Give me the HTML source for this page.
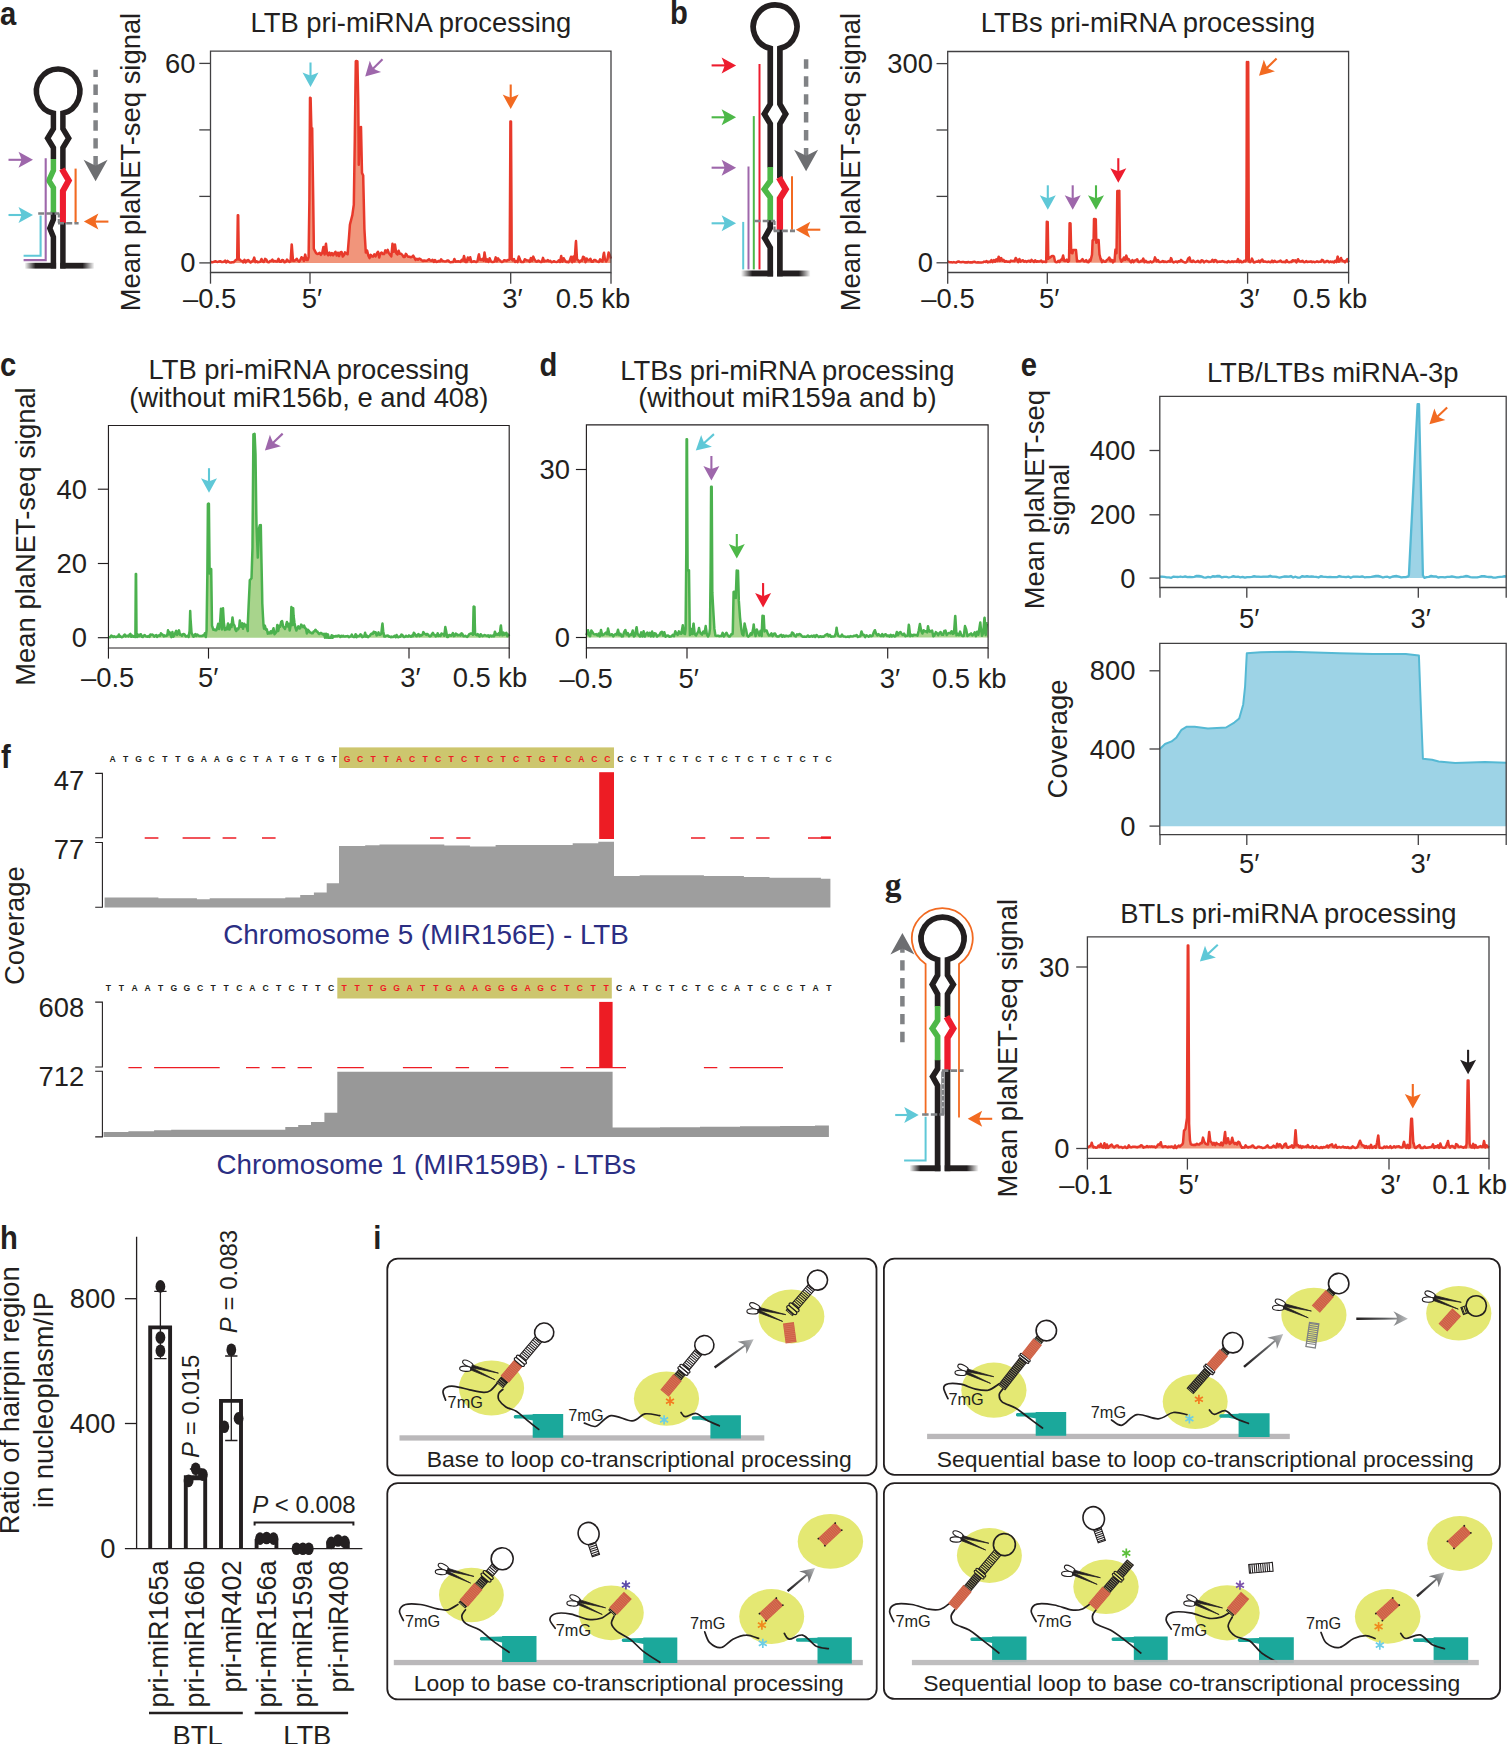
<!DOCTYPE html>
<html><head><meta charset="utf-8"><title>Figure</title>
<style>html,body{margin:0;padding:0;background:#fff}svg{display:block}text{font-family:"Liberation Sans",sans-serif;fill:#231f20}</style>
</head><body>
<svg width="1507" height="1744" viewBox="0 0 1507 1744">
<rect width="1507" height="1744" fill="#fff"/>
<text transform="translate(0 24.5) scale(0.885 1)" font-size="33" font-weight="bold">a</text>
<g fill="none" stroke-linejoin="miter" stroke-miterlimit="10">
<path d="M53.4 159V147.8L47.6 138.3L53.4 128.7V113.3A21.7 22.4 0 1 1 62.9 113.3V128.7L68.7 138.3L62.9 147.8V169.5" stroke="#231f20" fill="none" stroke-width="5.5"/>
<path d="M53.4 211.5V219.5L49.8 228.3L53.4 237V268.5" stroke="#231f20" fill="none" stroke-width="5.5"/>
<path d="M62.9 222V268.5" stroke="#231f20" fill="none" stroke-width="5.5"/>
<path d="M53.4 159V170.5L48.8 180.5L53.4 187.7V212.4" stroke="#4db848" fill="none" stroke-width="5.5"/>
<path d="M61.9 169L68.7 180.5L62.9 191V222.7" stroke="#ed1c2e" fill="none" stroke-width="6.1"/>
</g>
<defs><linearGradient id="fadeL" x1="0" x2="1" y1="0" y2="0"><stop offset="0" stop-color="#231f20" stop-opacity="0"/><stop offset="0.35" stop-color="#231f20"/><stop offset="1" stop-color="#231f20"/></linearGradient><linearGradient id="fadeR" x1="0" x2="1" y1="0" y2="0"><stop offset="0" stop-color="#231f20"/><stop offset="0.65" stop-color="#231f20"/><stop offset="1" stop-color="#231f20" stop-opacity="0"/></linearGradient></defs>
<rect x="24.5" y="262.8" width="31.6" height="5.8" fill="url(#fadeL)"/>
<rect x="60.2" y="262.8" width="34.3" height="5.8" fill="url(#fadeR)"/>
<path d="M45.7 158.2V260.1H23.6" stroke="#9e67ab" fill="none" stroke-width="2.1"/>
<path d="M40.6 215.5V255.8H23.6" stroke="#5fc8d7" fill="none" stroke-width="2.1"/>
<path d="M75.6 168.6V222.7" stroke="#f26a21" fill="none" stroke-width="2.1"/>
<path d="M38.2 213.5H59.3" stroke="#808285" fill="none" stroke-width="2.6" stroke-dasharray="6 2.2"/>
<path d="M58.8 213.5V223.2" stroke="#808285" fill="none" stroke-width="2.2" stroke-dasharray="4 1.5"/>
<path d="M58 223.2H78.6" stroke="#808285" fill="none" stroke-width="2.6" stroke-dasharray="6 2.2"/>
<g transform="translate(33 159.8) rotate(0)"><path d="M-24.5 0H-10.955" stroke="#9e67ab" stroke-width="2.1" fill="none"/><path d="M0 0L-14.5 -8.0Q-12.33 -3.20 -11.46 0Q-12.33 3.20 -14.5 8.0Z" fill="#9e67ab"/></g>
<g transform="translate(33 215) rotate(0)"><path d="M-24.5 0H-10.955" stroke="#5fc8d7" stroke-width="2.1" fill="none"/><path d="M0 0L-14.5 -8.0Q-12.33 -3.20 -11.46 0Q-12.33 3.20 -14.5 8.0Z" fill="#5fc8d7"/></g>
<g transform="translate(83.9 221.6) rotate(180)"><path d="M-24.5 0H-10.955" stroke="#f26a21" stroke-width="2.1" fill="none"/><path d="M0 0L-14.5 -8.0Q-12.33 -3.20 -11.46 0Q-12.33 3.20 -14.5 8.0Z" fill="#f26a21"/></g>
<path d="M95.6 69.8V169.47500000000002" stroke="#808285" fill="none" stroke-width="4.5" stroke-dasharray="10.4 7.5" stroke-dashoffset="3.2"/>
<path d="M95.6 181.3L83.6 159.8L95.6 165.82000000000002L107.6 159.8Z" fill="#6d6e71"/>
<text x="139.8" y="162" font-size="27.4" text-anchor="middle" transform="rotate(-90 139.8 162)">Mean plaNET-seq signal</text>
<text x="410.9" y="32.3" font-size="27.4" text-anchor="middle">LTB pri-miRNA processing</text>
<path d="M210.5 262.9 L210.5 261.7 L211.7 262.3 L212.9 262.2 L214.1 261.7 L215.4 261.3 L216.6 261.7 L217.8 261.9 L219 261.5 L220.2 261.2 L221.4 261.9 L222.6 261.9 L223.8 261.7 L225.1 260.6 L226.3 262.5 L227.5 260.9 L228.7 261.8 L229.9 262.5 L231.1 262.5 L232.3 262.2 L233.6 262.3 L234.8 261 L236 259.9 L237.2 259.3 L237.8 215.2 L238.2 215.3 L238.4 231 L238.8 259.5 L239.6 259.3 L240.8 260.6 L242.1 261 L243.3 262.4 L244.5 259.9 L245.7 262.4 L246.9 260.7 L248.1 260 L249.3 261.2 L250.6 262.5 L251.8 261.5 L253 261 L254.2 257.6 L255.4 262.1 L256.6 261.3 L257.8 262.3 L259 261.9 L260.3 261.8 L261.5 259 L262.7 261.5 L263.9 262 L265.1 258.9 L266.3 259.5 L267.5 262.1 L268.8 262.3 L270 261.1 L271.2 260.9 L272.4 259.7 L273.6 261.5 L274.8 260.9 L276 261.5 L277.2 261.4 L278.5 258.8 L279.7 261.7 L280.9 261.8 L282.1 260 L283.3 260.3 L284.5 262.3 L285.7 261.8 L287 259.6 L288.2 260.8 L289.4 261.9 L290.6 261.1 L291.7 244.4 L291.8 244.9 L293 260.8 L294.2 260.9 L295.5 260.2 L296.7 258.8 L297.9 260.6 L299.1 261.7 L300.3 260 L301.5 257.2 L302.7 258 L303.9 261 L305.2 254.6 L306.4 259.9 L307.6 260.1 L308.6 257 L308.8 242.4 L309.4 199.2 L310 97.8 L310 97.7 L310.6 97.9 L311.2 122.1 L311.4 128.8 L312.2 128.2 L312.4 145 L313.2 198.8 L313.7 237.1 L313.8 248.7 L314.9 250.9 L316.1 253.2 L317.3 253.9 L318.5 253.8 L319.7 252.8 L320.9 254.9 L322.2 253 L323.4 247 L324.6 254.6 L325.8 244.7 L326 243.8 L327 253.5 L328.2 255.2 L329.4 252.6 L330.6 255.2 L331.9 253 L333.1 255.3 L334.3 253.3 L335.5 251.8 L336.7 255.5 L337.9 252.7 L339.1 256 L340.4 252.5 L341.6 252 L342.8 256.6 L344 255 L345 252.3 L345.2 252.6 L346.4 253.4 L347.6 254.3 L347.9 250.3 L348.9 238.4 L349.9 224.8 L350.1 223.9 L351.3 219.2 L352.4 214.9 L352.5 213.9 L353.7 205.3 L353.8 205.1 L354.8 138.8 L354.9 129.5 L355.8 61.3 L356.1 61.1 L357.4 61.3 L357.4 61.7 L358.2 99.1 L358.6 139.1 L358.8 164.8 L359.8 127.7 L359.8 127.5 L361 127.2 L361 126.9 L362 173 L362.2 173.4 L363.2 175.5 L363.4 185.2 L364.4 228.7 L364.6 232.5 L365.8 252.4 L365.8 250.6 L367.1 250.5 L368.3 255.4 L369.5 258.1 L370.7 254.8 L371.9 256.5 L373.1 256.6 L374.3 254.3 L375.6 256.4 L376.8 253.4 L378 251.7 L379.2 257.6 L380.4 253.4 L381.6 252.5 L382.8 254.1 L384.1 254.1 L385.3 250.4 L386.5 252.4 L387.7 249.9 L388.9 253.2 L390.1 254.7 L391.3 256.4 L392.5 243.7 L393.8 251.7 L395 247.1 L395 244.6 L396.2 253.2 L397.4 254.5 L398.6 250.7 L399.8 253.7 L401 253.8 L402.3 254.9 L403.5 256.9 L404.7 257 L405.9 253.8 L407.1 255.5 L408.3 256.8 L409.5 256.8 L410.8 257.2 L412 256.9 L413.2 255.7 L414.4 257.6 L415.6 259.9 L416.8 258.8 L418 259.8 L419.2 258.6 L420.5 259.2 L421.7 260.2 L422.9 261.1 L424.1 260.4 L425.3 260.8 L426.5 260.8 L427.7 260.3 L429 259.2 L430.2 260.5 L431.4 260.7 L432.6 259.8 L433.8 262 L435 260 L436.2 261.9 L437.4 261.8 L438.7 260.9 L439.9 261.5 L441.1 259.3 L442.3 261 L443.5 261.1 L444.7 261.4 L445.9 261.3 L447.2 260.6 L448.4 260.5 L449.6 262.1 L450.8 262.2 L452 261.9 L453.2 262.1 L454.4 259 L455.7 261.7 L456.9 261.4 L458.1 261.3 L459.3 261.5 L460.5 261.9 L461.7 259.9 L462.9 260.7 L464 256 L464.1 256.2 L465.4 262 L466.6 262.1 L467.8 257.5 L469 260.1 L470.2 257.2 L471.4 262 L472.6 261.6 L473.9 261.3 L475.1 261.5 L476.3 262.1 L477.5 261 L478.7 255 L479 254.4 L479.9 259.7 L481.1 260.2 L482.4 258.9 L483.6 260.8 L484.5 252.6 L484.8 254.2 L486 261.4 L487.2 259.3 L488.4 262 L489.6 258.3 L490.9 261.2 L492.1 262 L493.3 261.9 L494.5 261.5 L495.7 257.4 L496.9 261.3 L498.1 258.4 L499.3 260.1 L500.6 261.1 L501.8 262.1 L503 261.5 L504.2 260.2 L505.4 260.5 L506.6 260.9 L507.8 260 L509.1 260.1 L509.7 258.7 L510.3 147.5 L510.4 121.4 L511 121.5 L511.5 216.4 L511.7 259.2 L512.7 260.4 L513.9 259 L515.1 262 L516.3 261.1 L517.5 262.1 L518.8 256.5 L520 259.4 L521.2 262.1 L522.4 262 L523.6 262.1 L524.8 259.2 L526 260 L527.3 260.6 L528.5 260.6 L529.7 261.8 L530.9 258 L532.1 260.9 L533.3 256.6 L534.5 259.6 L535.8 261.3 L537 261.7 L538.2 260.6 L539.4 261.2 L540.6 262.1 L541.8 261.9 L543 257.9 L544.2 261.5 L545.5 260.8 L546.7 261.1 L547.9 260 L549.1 261.3 L550.3 260.8 L551.5 262.2 L552.7 261.9 L554 261.2 L555.2 261.8 L556.4 261.9 L557.6 261.8 L558.8 260.3 L560 261.9 L561.2 255.9 L562.5 261.7 L563.7 258.3 L564.9 260.5 L566.1 262 L567.3 261.7 L568.5 262.3 L569.7 260.6 L571 256.8 L572.2 262.2 L573.4 256.6 L574.6 261.4 L575.8 242.8 L576 241.1 L577 259.4 L578.2 260.2 L579.4 262.2 L580.7 260.6 L581.9 260.8 L583.1 256.7 L584.3 257.6 L585.5 262.2 L586.7 258.5 L587.9 260.3 L589.2 260.3 L590.4 258.7 L591.6 261.8 L592.8 261.8 L594 260.1 L595.2 260 L596.4 261 L597.6 261.6 L598.9 262 L600.1 259.3 L601.3 261.1 L602.5 261.5 L603.7 253.7 L604 252.8 L604.9 259.1 L606.1 261.5 L607.4 259.4 L608.6 252.6 L609.8 255.3 L611 258.7 L611 262.9Z" stroke="none" fill="#f1957b" stroke-width="1"/>
<path d="M210.5 261.7 L211.7 262.3 L212.9 262.2 L214.1 261.7 L215.4 261.3 L216.6 261.7 L217.8 261.9 L219 261.5 L220.2 261.2 L221.4 261.9 L222.6 261.9 L223.8 261.7 L225.1 260.6 L226.3 262.5 L227.5 260.9 L228.7 261.8 L229.9 262.5 L231.1 262.5 L232.3 262.2 L233.6 262.3 L234.8 261 L236 259.9 L237.2 259.3 L237.8 215.2 L238.2 215.3 L238.4 231 L238.8 259.5 L239.6 259.3 L240.8 260.6 L242.1 261 L243.3 262.4 L244.5 259.9 L245.7 262.4 L246.9 260.7 L248.1 260 L249.3 261.2 L250.6 262.5 L251.8 261.5 L253 261 L254.2 257.6 L255.4 262.1 L256.6 261.3 L257.8 262.3 L259 261.9 L260.3 261.8 L261.5 259 L262.7 261.5 L263.9 262 L265.1 258.9 L266.3 259.5 L267.5 262.1 L268.8 262.3 L270 261.1 L271.2 260.9 L272.4 259.7 L273.6 261.5 L274.8 260.9 L276 261.5 L277.2 261.4 L278.5 258.8 L279.7 261.7 L280.9 261.8 L282.1 260 L283.3 260.3 L284.5 262.3 L285.7 261.8 L287 259.6 L288.2 260.8 L289.4 261.9 L290.6 261.1 L291.7 244.4 L291.8 244.9 L293 260.8 L294.2 260.9 L295.5 260.2 L296.7 258.8 L297.9 260.6 L299.1 261.7 L300.3 260 L301.5 257.2 L302.7 258 L303.9 261 L305.2 254.6 L306.4 259.9 L307.6 260.1 L308.6 257 L308.8 242.4 L309.4 199.2 L310 97.8 L310 97.7 L310.6 97.9 L311.2 122.1 L311.4 128.8 L312.2 128.2 L312.4 145 L313.2 198.8 L313.7 237.1 L313.8 248.7 L314.9 250.9 L316.1 253.2 L317.3 253.9 L318.5 253.8 L319.7 252.8 L320.9 254.9 L322.2 253 L323.4 247 L324.6 254.6 L325.8 244.7 L326 243.8 L327 253.5 L328.2 255.2 L329.4 252.6 L330.6 255.2 L331.9 253 L333.1 255.3 L334.3 253.3 L335.5 251.8 L336.7 255.5 L337.9 252.7 L339.1 256 L340.4 252.5 L341.6 252 L342.8 256.6 L344 255 L345 252.3 L345.2 252.6 L346.4 253.4 L347.6 254.3 L347.9 250.3 L348.9 238.4 L349.9 224.8 L350.1 223.9 L351.3 219.2 L352.4 214.9 L352.5 213.9 L353.7 205.3 L353.8 205.1 L354.8 138.8 L354.9 129.5 L355.8 61.3 L356.1 61.1 L357.4 61.3 L357.4 61.7 L358.2 99.1 L358.6 139.1 L358.8 164.8 L359.8 127.7 L359.8 127.5 L361 127.2 L361 126.9 L362 173 L362.2 173.4 L363.2 175.5 L363.4 185.2 L364.4 228.7 L364.6 232.5 L365.8 252.4 L365.8 250.6 L367.1 250.5 L368.3 255.4 L369.5 258.1 L370.7 254.8 L371.9 256.5 L373.1 256.6 L374.3 254.3 L375.6 256.4 L376.8 253.4 L378 251.7 L379.2 257.6 L380.4 253.4 L381.6 252.5 L382.8 254.1 L384.1 254.1 L385.3 250.4 L386.5 252.4 L387.7 249.9 L388.9 253.2 L390.1 254.7 L391.3 256.4 L392.5 243.7 L393.8 251.7 L395 247.1 L395 244.6 L396.2 253.2 L397.4 254.5 L398.6 250.7 L399.8 253.7 L401 253.8 L402.3 254.9 L403.5 256.9 L404.7 257 L405.9 253.8 L407.1 255.5 L408.3 256.8 L409.5 256.8 L410.8 257.2 L412 256.9 L413.2 255.7 L414.4 257.6 L415.6 259.9 L416.8 258.8 L418 259.8 L419.2 258.6 L420.5 259.2 L421.7 260.2 L422.9 261.1 L424.1 260.4 L425.3 260.8 L426.5 260.8 L427.7 260.3 L429 259.2 L430.2 260.5 L431.4 260.7 L432.6 259.8 L433.8 262 L435 260 L436.2 261.9 L437.4 261.8 L438.7 260.9 L439.9 261.5 L441.1 259.3 L442.3 261 L443.5 261.1 L444.7 261.4 L445.9 261.3 L447.2 260.6 L448.4 260.5 L449.6 262.1 L450.8 262.2 L452 261.9 L453.2 262.1 L454.4 259 L455.7 261.7 L456.9 261.4 L458.1 261.3 L459.3 261.5 L460.5 261.9 L461.7 259.9 L462.9 260.7 L464 256 L464.1 256.2 L465.4 262 L466.6 262.1 L467.8 257.5 L469 260.1 L470.2 257.2 L471.4 262 L472.6 261.6 L473.9 261.3 L475.1 261.5 L476.3 262.1 L477.5 261 L478.7 255 L479 254.4 L479.9 259.7 L481.1 260.2 L482.4 258.9 L483.6 260.8 L484.5 252.6 L484.8 254.2 L486 261.4 L487.2 259.3 L488.4 262 L489.6 258.3 L490.9 261.2 L492.1 262 L493.3 261.9 L494.5 261.5 L495.7 257.4 L496.9 261.3 L498.1 258.4 L499.3 260.1 L500.6 261.1 L501.8 262.1 L503 261.5 L504.2 260.2 L505.4 260.5 L506.6 260.9 L507.8 260 L509.1 260.1 L509.7 258.7 L510.3 147.5 L510.4 121.4 L511 121.5 L511.5 216.4 L511.7 259.2 L512.7 260.4 L513.9 259 L515.1 262 L516.3 261.1 L517.5 262.1 L518.8 256.5 L520 259.4 L521.2 262.1 L522.4 262 L523.6 262.1 L524.8 259.2 L526 260 L527.3 260.6 L528.5 260.6 L529.7 261.8 L530.9 258 L532.1 260.9 L533.3 256.6 L534.5 259.6 L535.8 261.3 L537 261.7 L538.2 260.6 L539.4 261.2 L540.6 262.1 L541.8 261.9 L543 257.9 L544.2 261.5 L545.5 260.8 L546.7 261.1 L547.9 260 L549.1 261.3 L550.3 260.8 L551.5 262.2 L552.7 261.9 L554 261.2 L555.2 261.8 L556.4 261.9 L557.6 261.8 L558.8 260.3 L560 261.9 L561.2 255.9 L562.5 261.7 L563.7 258.3 L564.9 260.5 L566.1 262 L567.3 261.7 L568.5 262.3 L569.7 260.6 L571 256.8 L572.2 262.2 L573.4 256.6 L574.6 261.4 L575.8 242.8 L576 241.1 L577 259.4 L578.2 260.2 L579.4 262.2 L580.7 260.6 L581.9 260.8 L583.1 256.7 L584.3 257.6 L585.5 262.2 L586.7 258.5 L587.9 260.3 L589.2 260.3 L590.4 258.7 L591.6 261.8 L592.8 261.8 L594 260.1 L595.2 260 L596.4 261 L597.6 261.6 L598.9 262 L600.1 259.3 L601.3 261.1 L602.5 261.5 L603.7 253.7 L604 252.8 L604.9 259.1 L606.1 261.5 L607.4 259.4 L608.6 252.6 L609.8 255.3 L611 258.7" stroke="#e8392b" fill="none" stroke-width="2.5" stroke-linejoin="round"/>
<path d="M210.5 51.2H611V272.5H210.5Z" stroke="#414042" fill="none" stroke-width="1.3"/>
<line x1="199.3" y1="63.4" x2="210.5" y2="63.4" stroke="#414042" stroke-width="1.3"/>
<line x1="199.3" y1="129.9" x2="210.5" y2="129.9" stroke="#414042" stroke-width="1.3"/>
<line x1="199.3" y1="196.4" x2="210.5" y2="196.4" stroke="#414042" stroke-width="1.3"/>
<line x1="199.3" y1="262.9" x2="210.5" y2="262.9" stroke="#414042" stroke-width="1.3"/>
<line x1="210.5" y1="272.5" x2="210.5" y2="283.7" stroke="#414042" stroke-width="1.3"/>
<line x1="310" y1="272.5" x2="310" y2="283.7" stroke="#414042" stroke-width="1.3"/>
<line x1="510.7" y1="272.5" x2="510.7" y2="283.7" stroke="#414042" stroke-width="1.3"/>
<line x1="611" y1="272.5" x2="611" y2="283.7" stroke="#414042" stroke-width="1.3"/>
<text x="195.5" y="72.9" font-size="27.4" text-anchor="end">60</text>
<text x="195.5" y="272.4" font-size="27.4" text-anchor="end">0</text>
<text x="209.7" y="308" font-size="27.4" text-anchor="middle">–0.5</text>
<text x="312" y="308" font-size="27.4" text-anchor="middle">5′</text>
<text x="512.5" y="308" font-size="27.4" text-anchor="middle">3′</text>
<text x="593" y="308" font-size="27.4" text-anchor="middle">0.5 kb</text>
<g transform="translate(310.5 87) rotate(90)"><path d="M-24.5 0H-10.955" stroke="#5fc8d7" stroke-width="2.1" fill="none"/><path d="M0 0L-14.5 -8.0Q-12.33 -3.20 -11.46 0Q-12.33 3.20 -14.5 8.0Z" fill="#5fc8d7"/></g>
<g transform="translate(365.2 76.6) rotate(135)"><path d="M-24.5 0H-10.955" stroke="#9e67ab" stroke-width="2.1" fill="none"/><path d="M0 0L-14.5 -8.0Q-12.33 -3.20 -11.46 0Q-12.33 3.20 -14.5 8.0Z" fill="#9e67ab"/></g>
<g transform="translate(510.7 109) rotate(90)"><path d="M-24.5 0H-10.955" stroke="#f26a21" stroke-width="2.1" fill="none"/><path d="M0 0L-14.5 -8.0Q-12.33 -3.20 -11.46 0Q-12.33 3.20 -14.5 8.0Z" fill="#f26a21"/></g>
<text transform="translate(669.9 24.3) scale(0.885 1)" font-size="33" font-weight="bold">b</text>
<g fill="none" stroke-linejoin="miter" stroke-miterlimit="10">
<path d="M770.25 167.5V123.9L764.3 114L770.25 104.1V48.4A21.85 22.0 0 1 1 779.9 48.4V104.1L785.7 114L779.9 123.9V178" stroke="#231f20" fill="none" stroke-width="5.7"/>
<path d="M770.25 219.5V228L764.6 237.9L770.25 247.7V276.4" stroke="#231f20" fill="none" stroke-width="5.7"/>
<path d="M779.9 229V276.4" stroke="#231f20" fill="none" stroke-width="5.7"/>
<path d="M770.25 166.9V181L764.3 189.2L770.25 197.4V220.2" stroke="#4db848" fill="none" stroke-width="5.7"/>
<path d="M778.9 177.5L785.7 189.2L779.9 198.5V229.7" stroke="#ed1c2e" fill="none" stroke-width="6.3"/>
</g>
<rect x="741" y="270.5" width="32.1" height="5.9" fill="url(#fadeL)"/>
<rect x="777.1" y="270.5" width="33.5" height="5.9" fill="url(#fadeR)"/>
<path d="M759.5 64V269.4" stroke="#ed1c2e" fill="none" stroke-width="2.0"/>
<path d="M753.8 116.1V269.4" stroke="#4db848" fill="none" stroke-width="2.0"/>
<path d="M748.5 166.5V269.4" stroke="#9e67ab" fill="none" stroke-width="2.0"/>
<path d="M743.2 221.9V269.4" stroke="#5fc8d7" fill="none" stroke-width="2.0"/>
<path d="M792 176.3V229.7" stroke="#f26a21" fill="none" stroke-width="2.0"/>
<path d="M754.5 221H775" stroke="#808285" fill="none" stroke-width="2.6" stroke-dasharray="6 2.2"/>
<path d="M774.5 221V231" stroke="#808285" fill="none" stroke-width="2.2" stroke-dasharray="4 1.5"/>
<path d="M773.6 230.9H795" stroke="#808285" fill="none" stroke-width="2.6" stroke-dasharray="6 2.2"/>
<g transform="translate(736.1 65.4) rotate(0)"><path d="M-24.5 0H-10.955" stroke="#ed1c2e" stroke-width="2.1" fill="none"/><path d="M0 0L-14.5 -8.0Q-12.33 -3.20 -11.46 0Q-12.33 3.20 -14.5 8.0Z" fill="#ed1c2e"/></g>
<g transform="translate(736.1 117.3) rotate(0)"><path d="M-24.5 0H-10.955" stroke="#4db848" stroke-width="2.1" fill="none"/><path d="M0 0L-14.5 -8.0Q-12.33 -3.20 -11.46 0Q-12.33 3.20 -14.5 8.0Z" fill="#4db848"/></g>
<g transform="translate(736.1 167.7) rotate(0)"><path d="M-24.5 0H-10.955" stroke="#9e67ab" stroke-width="2.1" fill="none"/><path d="M0 0L-14.5 -8.0Q-12.33 -3.20 -11.46 0Q-12.33 3.20 -14.5 8.0Z" fill="#9e67ab"/></g>
<g transform="translate(736.1 223.3) rotate(0)"><path d="M-24.5 0H-10.955" stroke="#5fc8d7" stroke-width="2.1" fill="none"/><path d="M0 0L-14.5 -8.0Q-12.33 -3.20 -11.46 0Q-12.33 3.20 -14.5 8.0Z" fill="#5fc8d7"/></g>
<g transform="translate(795.8 229.7) rotate(180)"><path d="M-24.5 0H-10.955" stroke="#f26a21" stroke-width="2.1" fill="none"/><path d="M0 0L-14.5 -8.0Q-12.33 -3.20 -11.46 0Q-12.33 3.20 -14.5 8.0Z" fill="#f26a21"/></g>
<path d="M806.1 59.3V159.375" stroke="#808285" fill="none" stroke-width="4.5" stroke-dasharray="10.4 7.5" stroke-dashoffset="0.9000000000000004"/>
<path d="M806.1 171.2L794.1 149.7L806.1 155.72L818.1 149.7Z" fill="#6d6e71"/>
<text x="860.3" y="162" font-size="27.4" text-anchor="middle" transform="rotate(-90 860.3 162)">Mean plaNET-seq signal</text>
<text x="1148" y="32.3" font-size="27.4" text-anchor="middle">LTBs pri-miRNA processing</text>
<path d="M947.7 262.8 L947.7 261.5 L948.9 262 L950.1 262.2 L951.3 262.3 L952.6 262.4 L953.8 262.1 L955 262.4 L956.2 262.6 L957.4 261.8 L958.6 261.5 L959.8 262 L961.1 262.2 L962.3 262.1 L963.5 262 L964.7 262.4 L965.9 262.2 L967.1 262.5 L968.4 261.9 L969.6 262.5 L970.8 262.3 L972 262.5 L973.2 262 L974.4 261.8 L975.6 262.2 L976.9 262.5 L978.1 262.2 L979.3 262.6 L980.5 262.4 L981.7 262.4 L982.9 262.3 L984.1 261.6 L985.4 261.9 L986.6 261 L987.8 262.4 L989 261.7 L990.2 262 L991.4 260.1 L992.6 262.2 L993.9 260.1 L995.1 261.7 L996.3 259.3 L997.5 261 L998.7 256.7 L998.8 256.8 L999.9 260.9 L1001.2 258.1 L1002.4 260.8 L1003.6 259.9 L1004.8 261.8 L1006 261.1 L1007.2 261.7 L1008.4 261.6 L1009.7 262.1 L1010.9 260.6 L1012.1 260.9 L1013.3 261.1 L1014.5 261.3 L1015.7 258 L1016.9 259.8 L1018.2 262.1 L1019.4 259 L1020.6 261.7 L1021.8 260.6 L1023 260.2 L1024.2 261.7 L1025.5 261 L1026.7 261.9 L1027.9 260.9 L1029.1 260.8 L1030.3 261.8 L1031.5 259.9 L1032.7 260.9 L1034 262 L1035.2 260.3 L1036.4 261.8 L1037.6 261.2 L1038.8 261.6 L1040 261.2 L1041.2 260.6 L1042.5 262.1 L1043.7 261.5 L1044.9 261.9 L1046.1 261.7 L1046.2 262.1 L1046.8 221.8 L1047.3 221.9 L1047.7 221.9 L1048.3 258.7 L1048.5 258.4 L1049.7 257.7 L1051 256.7 L1052 255.9 L1052.2 256 L1053.4 256.1 L1054 256.7 L1054.6 259.5 L1055 261.4 L1055.8 262.1 L1057 262.2 L1058.3 260.8 L1059.5 262 L1060.7 259.8 L1061.9 260.1 L1063.1 255.5 L1064.3 261 L1065.5 261 L1066.8 259.7 L1068 261.8 L1069 261 L1069.2 250 L1069.6 223.3 L1070.4 223.3 L1070.5 223.4 L1071.2 252.5 L1071.6 253 L1072.5 253.2 L1072.8 251.2 L1073 250.1 L1074 250.1 L1075.3 250 L1076 250.1 L1076.5 255.3 L1077 261.4 L1077.7 260.7 L1078.9 261.3 L1080.1 261.3 L1081.3 260.4 L1082.5 259.2 L1083.8 261.2 L1085 261.5 L1086.2 260.1 L1087.4 262 L1088.6 262.2 L1089.8 259.5 L1090.5 260.6 L1091.1 258.4 L1092 254.7 L1092.3 248.1 L1092.6 240.2 L1093.5 240 L1093.6 240 L1094 219 L1094.7 219.1 L1095.8 219.3 L1095.9 224.5 L1096.3 242.8 L1097 240.1 L1097.1 240.1 L1098.3 240.1 L1098.6 240.1 L1099.5 254.6 L1099.6 254.8 L1100.8 259.8 L1101 259 L1102 262.1 L1103.2 260.6 L1104.4 261.7 L1105.6 261.7 L1106.8 260.1 L1108.1 259.3 L1109.3 257.5 L1110.5 261.1 L1111.7 259.9 L1112.9 262.4 L1114.1 260.1 L1114.5 261.3 L1115.3 251.2 L1115.5 249.4 L1116.5 253.3 L1116.6 248.4 L1117.3 191 L1117.8 190.9 L1119 191 L1119.3 190.8 L1120 257.3 L1120.2 258.1 L1121 260.9 L1121.4 261.7 L1122.6 260.6 L1123.9 257.5 L1125.1 259.8 L1126.3 255.6 L1127.5 259.5 L1128.7 259 L1129.9 261.1 L1131.1 262.3 L1132.4 260 L1133.6 262.1 L1134.8 260.4 L1136 260.3 L1137.2 259.3 L1138.4 262 L1139.6 262 L1140.9 260.8 L1142.1 261.3 L1143.3 258.6 L1144.5 262.3 L1145.7 260.7 L1146.9 262.2 L1148.1 262.1 L1149.4 262.2 L1150.6 261.4 L1151.8 262.4 L1153 261.8 L1154.2 260.4 L1155 257.4 L1155.4 258.6 L1156.7 261.4 L1157.9 260 L1159.1 261.9 L1160.3 261.9 L1161.5 261.8 L1162.7 261 L1163.9 262 L1165.2 261.5 L1166.4 262.1 L1167.6 261.7 L1168.8 261 L1170 261.6 L1171 258.1 L1171.2 258.3 L1172.4 261.6 L1173.7 262.4 L1174.9 261.9 L1176.1 261.4 L1177.3 262.4 L1178.5 261.2 L1179.7 261.6 L1181 259.9 L1182.2 261.2 L1183.4 261.9 L1184.6 262.4 L1185.8 262.4 L1187 261.5 L1188.2 258.4 L1189.5 257.4 L1190.7 261.4 L1191.9 262 L1193.1 260.5 L1194.3 261.6 L1195.5 262 L1196.7 261.6 L1198 260.8 L1199.2 262 L1200.4 262.3 L1201.6 260.2 L1202.8 260.6 L1204 262.4 L1205.2 261.4 L1206.5 260.8 L1207.7 261.3 L1208.9 262.1 L1210.1 261.8 L1211.3 261.5 L1212.5 259.8 L1213.8 261.9 L1215 260 L1216.2 260.4 L1217.4 262.2 L1218.6 261.7 L1219.8 261.6 L1221 261.7 L1222.3 261.1 L1223.5 261.5 L1224.7 262 L1225.9 262 L1227.1 262.4 L1228.3 261 L1229.5 261.9 L1230.8 262.1 L1232 261.2 L1233.2 262.1 L1234.4 261.4 L1235.6 261.4 L1236.8 261.9 L1238 259.1 L1239.3 262.2 L1240.5 260.7 L1241.7 262.3 L1242.9 262.1 L1244.1 260.7 L1245.3 261.4 L1246.3 260.4 L1246.6 177.5 L1246.9 62.1 L1247.8 62.2 L1248.2 62.1 L1248.8 261.4 L1249 260.7 L1250.2 262.1 L1251.4 260 L1252 258.6 L1252.6 260.2 L1253.8 262.4 L1255.1 262.2 L1256.3 261.6 L1257.5 261.8 L1258.7 260.7 L1259.9 262.2 L1261.1 260.5 L1262.3 259.5 L1263.6 261.8 L1264.8 261.4 L1266 261.8 L1267.2 262.1 L1268.4 261.5 L1269.6 262.1 L1270.8 262.2 L1272.1 260.6 L1273.3 262.1 L1274.5 260.8 L1275.7 261.8 L1276.9 262 L1278.1 261.6 L1279.4 261.2 L1280.6 260.6 L1281.8 261.9 L1283 261.9 L1284.2 261.7 L1285.4 262.3 L1286.6 260.2 L1287.9 261.9 L1289.1 262.3 L1290.3 261.8 L1291.5 262 L1292.7 260.2 L1293.9 260.9 L1295.1 260.4 L1296.4 262.4 L1297.6 259.9 L1298 259.2 L1298.8 260.6 L1300 261.4 L1301.2 261.5 L1302.4 260.7 L1303.7 262.1 L1304.9 262.2 L1306.1 261.1 L1307.3 262 L1308.5 261.7 L1309.7 261.8 L1310.9 261.3 L1312.2 262.2 L1313.4 261.7 L1314.6 262.2 L1315.8 261.9 L1317 261.3 L1318.2 261.9 L1319.4 261.7 L1320.7 261.8 L1321.9 259.8 L1323.1 260.4 L1324.3 262.3 L1325.5 262 L1326.7 260.9 L1327.9 261.1 L1329.2 262.3 L1330.4 261.4 L1331.6 262.1 L1332.8 261.6 L1334 262.4 L1335.2 260.8 L1336.5 262.1 L1337.6 256.7 L1337.7 256.6 L1338.9 261.7 L1340.1 260.2 L1341 258 L1341.3 258.8 L1342.5 260.9 L1343.7 261 L1345 262.3 L1346.2 260.5 L1347.4 259.2 L1348.6 262.3 L1348.6 262.8Z" stroke="none" fill="#f1957b" stroke-width="1"/>
<path d="M947.7 261.5 L948.9 262 L950.1 262.2 L951.3 262.3 L952.6 262.4 L953.8 262.1 L955 262.4 L956.2 262.6 L957.4 261.8 L958.6 261.5 L959.8 262 L961.1 262.2 L962.3 262.1 L963.5 262 L964.7 262.4 L965.9 262.2 L967.1 262.5 L968.4 261.9 L969.6 262.5 L970.8 262.3 L972 262.5 L973.2 262 L974.4 261.8 L975.6 262.2 L976.9 262.5 L978.1 262.2 L979.3 262.6 L980.5 262.4 L981.7 262.4 L982.9 262.3 L984.1 261.6 L985.4 261.9 L986.6 261 L987.8 262.4 L989 261.7 L990.2 262 L991.4 260.1 L992.6 262.2 L993.9 260.1 L995.1 261.7 L996.3 259.3 L997.5 261 L998.7 256.7 L998.8 256.8 L999.9 260.9 L1001.2 258.1 L1002.4 260.8 L1003.6 259.9 L1004.8 261.8 L1006 261.1 L1007.2 261.7 L1008.4 261.6 L1009.7 262.1 L1010.9 260.6 L1012.1 260.9 L1013.3 261.1 L1014.5 261.3 L1015.7 258 L1016.9 259.8 L1018.2 262.1 L1019.4 259 L1020.6 261.7 L1021.8 260.6 L1023 260.2 L1024.2 261.7 L1025.5 261 L1026.7 261.9 L1027.9 260.9 L1029.1 260.8 L1030.3 261.8 L1031.5 259.9 L1032.7 260.9 L1034 262 L1035.2 260.3 L1036.4 261.8 L1037.6 261.2 L1038.8 261.6 L1040 261.2 L1041.2 260.6 L1042.5 262.1 L1043.7 261.5 L1044.9 261.9 L1046.1 261.7 L1046.2 262.1 L1046.8 221.8 L1047.3 221.9 L1047.7 221.9 L1048.3 258.7 L1048.5 258.4 L1049.7 257.7 L1051 256.7 L1052 255.9 L1052.2 256 L1053.4 256.1 L1054 256.7 L1054.6 259.5 L1055 261.4 L1055.8 262.1 L1057 262.2 L1058.3 260.8 L1059.5 262 L1060.7 259.8 L1061.9 260.1 L1063.1 255.5 L1064.3 261 L1065.5 261 L1066.8 259.7 L1068 261.8 L1069 261 L1069.2 250 L1069.6 223.3 L1070.4 223.3 L1070.5 223.4 L1071.2 252.5 L1071.6 253 L1072.5 253.2 L1072.8 251.2 L1073 250.1 L1074 250.1 L1075.3 250 L1076 250.1 L1076.5 255.3 L1077 261.4 L1077.7 260.7 L1078.9 261.3 L1080.1 261.3 L1081.3 260.4 L1082.5 259.2 L1083.8 261.2 L1085 261.5 L1086.2 260.1 L1087.4 262 L1088.6 262.2 L1089.8 259.5 L1090.5 260.6 L1091.1 258.4 L1092 254.7 L1092.3 248.1 L1092.6 240.2 L1093.5 240 L1093.6 240 L1094 219 L1094.7 219.1 L1095.8 219.3 L1095.9 224.5 L1096.3 242.8 L1097 240.1 L1097.1 240.1 L1098.3 240.1 L1098.6 240.1 L1099.5 254.6 L1099.6 254.8 L1100.8 259.8 L1101 259 L1102 262.1 L1103.2 260.6 L1104.4 261.7 L1105.6 261.7 L1106.8 260.1 L1108.1 259.3 L1109.3 257.5 L1110.5 261.1 L1111.7 259.9 L1112.9 262.4 L1114.1 260.1 L1114.5 261.3 L1115.3 251.2 L1115.5 249.4 L1116.5 253.3 L1116.6 248.4 L1117.3 191 L1117.8 190.9 L1119 191 L1119.3 190.8 L1120 257.3 L1120.2 258.1 L1121 260.9 L1121.4 261.7 L1122.6 260.6 L1123.9 257.5 L1125.1 259.8 L1126.3 255.6 L1127.5 259.5 L1128.7 259 L1129.9 261.1 L1131.1 262.3 L1132.4 260 L1133.6 262.1 L1134.8 260.4 L1136 260.3 L1137.2 259.3 L1138.4 262 L1139.6 262 L1140.9 260.8 L1142.1 261.3 L1143.3 258.6 L1144.5 262.3 L1145.7 260.7 L1146.9 262.2 L1148.1 262.1 L1149.4 262.2 L1150.6 261.4 L1151.8 262.4 L1153 261.8 L1154.2 260.4 L1155 257.4 L1155.4 258.6 L1156.7 261.4 L1157.9 260 L1159.1 261.9 L1160.3 261.9 L1161.5 261.8 L1162.7 261 L1163.9 262 L1165.2 261.5 L1166.4 262.1 L1167.6 261.7 L1168.8 261 L1170 261.6 L1171 258.1 L1171.2 258.3 L1172.4 261.6 L1173.7 262.4 L1174.9 261.9 L1176.1 261.4 L1177.3 262.4 L1178.5 261.2 L1179.7 261.6 L1181 259.9 L1182.2 261.2 L1183.4 261.9 L1184.6 262.4 L1185.8 262.4 L1187 261.5 L1188.2 258.4 L1189.5 257.4 L1190.7 261.4 L1191.9 262 L1193.1 260.5 L1194.3 261.6 L1195.5 262 L1196.7 261.6 L1198 260.8 L1199.2 262 L1200.4 262.3 L1201.6 260.2 L1202.8 260.6 L1204 262.4 L1205.2 261.4 L1206.5 260.8 L1207.7 261.3 L1208.9 262.1 L1210.1 261.8 L1211.3 261.5 L1212.5 259.8 L1213.8 261.9 L1215 260 L1216.2 260.4 L1217.4 262.2 L1218.6 261.7 L1219.8 261.6 L1221 261.7 L1222.3 261.1 L1223.5 261.5 L1224.7 262 L1225.9 262 L1227.1 262.4 L1228.3 261 L1229.5 261.9 L1230.8 262.1 L1232 261.2 L1233.2 262.1 L1234.4 261.4 L1235.6 261.4 L1236.8 261.9 L1238 259.1 L1239.3 262.2 L1240.5 260.7 L1241.7 262.3 L1242.9 262.1 L1244.1 260.7 L1245.3 261.4 L1246.3 260.4 L1246.6 177.5 L1246.9 62.1 L1247.8 62.2 L1248.2 62.1 L1248.8 261.4 L1249 260.7 L1250.2 262.1 L1251.4 260 L1252 258.6 L1252.6 260.2 L1253.8 262.4 L1255.1 262.2 L1256.3 261.6 L1257.5 261.8 L1258.7 260.7 L1259.9 262.2 L1261.1 260.5 L1262.3 259.5 L1263.6 261.8 L1264.8 261.4 L1266 261.8 L1267.2 262.1 L1268.4 261.5 L1269.6 262.1 L1270.8 262.2 L1272.1 260.6 L1273.3 262.1 L1274.5 260.8 L1275.7 261.8 L1276.9 262 L1278.1 261.6 L1279.4 261.2 L1280.6 260.6 L1281.8 261.9 L1283 261.9 L1284.2 261.7 L1285.4 262.3 L1286.6 260.2 L1287.9 261.9 L1289.1 262.3 L1290.3 261.8 L1291.5 262 L1292.7 260.2 L1293.9 260.9 L1295.1 260.4 L1296.4 262.4 L1297.6 259.9 L1298 259.2 L1298.8 260.6 L1300 261.4 L1301.2 261.5 L1302.4 260.7 L1303.7 262.1 L1304.9 262.2 L1306.1 261.1 L1307.3 262 L1308.5 261.7 L1309.7 261.8 L1310.9 261.3 L1312.2 262.2 L1313.4 261.7 L1314.6 262.2 L1315.8 261.9 L1317 261.3 L1318.2 261.9 L1319.4 261.7 L1320.7 261.8 L1321.9 259.8 L1323.1 260.4 L1324.3 262.3 L1325.5 262 L1326.7 260.9 L1327.9 261.1 L1329.2 262.3 L1330.4 261.4 L1331.6 262.1 L1332.8 261.6 L1334 262.4 L1335.2 260.8 L1336.5 262.1 L1337.6 256.7 L1337.7 256.6 L1338.9 261.7 L1340.1 260.2 L1341 258 L1341.3 258.8 L1342.5 260.9 L1343.7 261 L1345 262.3 L1346.2 260.5 L1347.4 259.2 L1348.6 262.3" stroke="#e8392b" fill="none" stroke-width="2.5" stroke-linejoin="round"/>
<path d="M947.7 51.5H1348.6V272.5H947.7Z" stroke="#414042" fill="none" stroke-width="1.3"/>
<line x1="936.5" y1="63.6" x2="947.7" y2="63.6" stroke="#414042" stroke-width="1.3"/>
<line x1="936.5" y1="130" x2="947.7" y2="130" stroke="#414042" stroke-width="1.3"/>
<line x1="936.5" y1="196.4" x2="947.7" y2="196.4" stroke="#414042" stroke-width="1.3"/>
<line x1="936.5" y1="262.8" x2="947.7" y2="262.8" stroke="#414042" stroke-width="1.3"/>
<line x1="947.7" y1="272.5" x2="947.7" y2="283.7" stroke="#414042" stroke-width="1.3"/>
<line x1="1047.3" y1="272.5" x2="1047.3" y2="283.7" stroke="#414042" stroke-width="1.3"/>
<line x1="1247.6" y1="272.5" x2="1247.6" y2="283.7" stroke="#414042" stroke-width="1.3"/>
<line x1="1348.6" y1="272.5" x2="1348.6" y2="283.7" stroke="#414042" stroke-width="1.3"/>
<text x="933" y="72.5" font-size="27.4" text-anchor="end">300</text>
<text x="933" y="272" font-size="27.4" text-anchor="end">0</text>
<text x="948" y="308" font-size="27.4" text-anchor="middle">–0.5</text>
<text x="1049.3" y="308" font-size="27.4" text-anchor="middle">5′</text>
<text x="1249.5" y="308" font-size="27.4" text-anchor="middle">3′</text>
<text x="1330" y="308" font-size="27.4" text-anchor="middle">0.5 kb</text>
<g transform="translate(1047.8 209.8) rotate(90)"><path d="M-24.5 0H-10.955" stroke="#5fc8d7" stroke-width="2.1" fill="none"/><path d="M0 0L-14.5 -8.0Q-12.33 -3.20 -11.46 0Q-12.33 3.20 -14.5 8.0Z" fill="#5fc8d7"/></g>
<g transform="translate(1072.7 209.8) rotate(90)"><path d="M-24.5 0H-10.955" stroke="#9e67ab" stroke-width="2.1" fill="none"/><path d="M0 0L-14.5 -8.0Q-12.33 -3.20 -11.46 0Q-12.33 3.20 -14.5 8.0Z" fill="#9e67ab"/></g>
<g transform="translate(1096 209.8) rotate(90)"><path d="M-24.5 0H-10.955" stroke="#4db848" stroke-width="2.1" fill="none"/><path d="M0 0L-14.5 -8.0Q-12.33 -3.20 -11.46 0Q-12.33 3.20 -14.5 8.0Z" fill="#4db848"/></g>
<g transform="translate(1118.3 182.7) rotate(90)"><path d="M-24.5 0H-10.955" stroke="#ed1c2e" stroke-width="2.1" fill="none"/><path d="M0 0L-14.5 -8.0Q-12.33 -3.20 -11.46 0Q-12.33 3.20 -14.5 8.0Z" fill="#ed1c2e"/></g>
<g transform="translate(1259 75.7) rotate(135.8)"><path d="M-24.5 0H-10.955" stroke="#f26a21" stroke-width="2.1" fill="none"/><path d="M0 0L-14.5 -8.0Q-12.33 -3.20 -11.46 0Q-12.33 3.20 -14.5 8.0Z" fill="#f26a21"/></g>
<text transform="translate(0 376) scale(0.885 1)" font-size="33" font-weight="bold">c</text>
<text x="34.8" y="536.5" font-size="27.4" text-anchor="middle" transform="rotate(-90 34.8 536.5)">Mean plaNET-seq signal</text>
<text x="308.8" y="379.4" font-size="27.4" text-anchor="middle">LTB pri-miRNA processing</text>
<text x="308.8" y="407" font-size="27.4" text-anchor="middle">(without miR156b, e and 408)</text>
<path d="M108.5 637.7 L108.5 636.9 L109.4 637.3 L110.4 637.2 L111.3 635.5 L112.3 636.2 L113.2 637.1 L114.2 636.3 L115.1 636.9 L116.1 637.1 L117 636.5 L118 636.8 L118.9 634.5 L119.9 636.8 L120.9 636.6 L121.8 637.2 L122.8 636.9 L123.7 635.6 L124.7 634.5 L125.6 636.5 L126.6 635.7 L127.5 635.7 L128.5 636.4 L129.4 634.8 L130.4 633.9 L131.3 636.8 L132.3 635.5 L133.3 636.8 L134.2 636 L135.2 637 L135.4 635.7 L135.8 574 L136.1 574 L136.1 577.3 L136.5 633.4 L137.1 637 L138 634.6 L139 636.3 L139.9 634.6 L140.9 634.2 L141.8 636.8 L142.8 636.9 L143.8 635.5 L144.7 635 L145.7 636.3 L146.6 636.4 L147.6 636.8 L148.5 636 L149.5 636.9 L150.4 634.5 L151.4 634.8 L152.3 634.6 L153.3 635.3 L154.2 636.6 L155.2 635.6 L156.2 635.1 L157.1 636.9 L158.1 635.7 L159 635.3 L160 635.9 L160.9 633.3 L161.9 634.3 L162.8 634.9 L163.8 636.4 L164.7 635.4 L165.7 636.1 L166.7 635.8 L167.6 633.3 L168 630.3 L168.6 634.6 L169.5 632.1 L170.5 634.5 L171.4 637.1 L172.4 632.1 L173.3 636.7 L174.3 635.4 L175.2 633.1 L176.2 630.8 L177.2 634.9 L178.1 632.7 L179 630.3 L179.1 630.7 L180 634.8 L181 634.6 L181.9 635.9 L182.9 634.1 L183.8 633.9 L184.8 634.8 L185.7 636.4 L186.7 636.2 L187.6 635.8 L188.6 637 L189.6 631 L190.2 611.1 L190.5 618.4 L191.5 632.7 L192.4 634.6 L193.4 636.8 L194.3 635.8 L195.3 634 L196.2 636 L197.2 634.5 L198.1 635.3 L199.1 635.9 L200.1 636.1 L201 636.1 L202 636 L202.9 635.4 L203.9 635.4 L204.8 633.4 L205.8 637 L206.6 630.1 L206.7 620.2 L207.4 570.3 L207.7 532.8 L207.9 504 L208.6 503.5 L208.9 504 L209.6 572.9 L209.6 573.5 L210.2 569.2 L210.5 569 L211.2 569.1 L211.5 590.2 L212 625.7 L212.5 627.3 L213.4 629.7 L214.4 629.4 L215.3 630.3 L216.3 630.2 L217.2 627.8 L218.2 623.8 L219.1 629.1 L220.1 622.4 L221 608.7 L221 609.1 L222 629.4 L222.9 608.4 L223 608.2 L223.9 623.2 L224.9 630 L225.8 628.2 L226.8 629.3 L227.7 625.1 L228 623.6 L228.7 629.4 L229.6 629.6 L230.6 624.4 L231.5 627 L232.5 617.5 L233.4 624 L234.4 625.4 L235.4 629.6 L236.3 631 L237.3 628.6 L238.2 629.2 L239.2 626.9 L239.8 620.6 L240.1 622.3 L241.1 626.7 L242 623.3 L243 628.7 L243.9 623.9 L244 623.7 L244.9 626.3 L245.9 624.9 L246.8 627.1 L247.8 631.1 L247.8 623.8 L248.7 604 L249.7 583.1 L249.8 580.1 L250.6 579.3 L251.5 578.2 L251.6 575.6 L252.5 547.3 L252.5 543.9 L253.4 434.5 L253.5 434.2 L254.4 434.3 L254.6 433.9 L255.4 452.1 L255.5 454.4 L256.3 514.6 L256.5 525.2 L257.3 545 L257.8 557.6 L258.3 546.9 L259 529.2 L259.2 527.7 L259.8 525.2 L260.2 525.4 L260.8 525.1 L261.1 542.1 L261.5 562.7 L262.1 591.6 L262.3 603.5 L263 616.8 L263.5 625 L264 628.7 L264.9 625.8 L265.9 629.6 L266.8 629.2 L267.8 633.8 L268.8 632.5 L269.7 633.5 L270.7 631.4 L271.6 633.2 L272.6 630.8 L273.5 628.3 L274.5 634.3 L275.4 633.1 L276.4 632 L277.3 625 L278.3 630.9 L279.2 625.8 L280.2 626.6 L281.2 621.7 L282.1 621.1 L283.1 626.5 L284 627.6 L285 628.9 L285.9 626.1 L286.9 622 L287.8 626.6 L288.8 623.8 L289.7 630.6 L290.7 625.2 L291.4 607 L291.6 610.8 L292.6 625.1 L293.2 608.3 L293.6 616 L294.5 623 L295.5 627.9 L296.4 630.5 L297.4 628 L298.3 626.4 L299.3 628.5 L300.2 628.2 L301.2 624.6 L302.1 625.7 L303.1 627.1 L304.1 625.6 L305 628 L306 628.8 L306.9 633.5 L307.9 629.7 L308.8 630.8 L309.8 632.3 L310.7 632.4 L311.7 633.2 L312.6 633.3 L313.6 631.5 L314.6 631.2 L315.5 629.7 L316.5 631.5 L317.4 631.6 L318.4 633.2 L319.3 634 L320.3 633.1 L321.2 633 L322.2 633.9 L323.1 634.6 L324.1 633.8 L325 637.8 L326 633.8 L327 637.8 L327.9 634.4 L328.9 637.8 L329.8 637.7 L330.8 637.8 L331.7 635.2 L332.7 637.8 L333.6 636 L334.6 636.6 L335.5 636.1 L336.5 636 L337.4 636.3 L338.4 635.6 L339.4 635.7 L340.3 636.9 L341.3 635.8 L342.2 636.5 L343.2 635.8 L344.1 636.6 L345.1 636.4 L346 636.2 L347 636.3 L347.9 636 L348.9 637.1 L349.9 636.5 L350.8 636.5 L351.8 634.6 L352.7 636.6 L353.7 637 L354.6 637 L355.6 634.2 L356.5 637.2 L357.5 635.8 L358.4 636.2 L359.4 636.1 L360.4 634.3 L361.3 634.8 L362.3 637.2 L363.2 636.7 L364.2 636.4 L365.1 632.7 L366.1 636.7 L367 635.6 L368 637.1 L368.9 636.3 L369.9 635.7 L370.8 634.3 L371.8 633.5 L372.8 634 L373.7 631.7 L374.7 632.7 L375.6 632.2 L376.6 635.4 L377.5 634.9 L378.5 632.4 L379.4 634.8 L380.4 634.8 L381.3 633.7 L382.3 624.4 L382.5 623.5 L383.2 631.2 L384.2 636.6 L385.2 636.5 L386.1 635.7 L387.1 635.7 L388 635.5 L389 636.7 L389.9 636.6 L390.9 637.2 L391.8 636.6 L392.8 637.1 L393.7 636.5 L394.7 635.7 L395.7 637.2 L396.6 635 L397.6 637.1 L398.5 637.2 L399.5 636.5 L400.4 636.7 L401.4 634.6 L402.3 635 L403.3 636.5 L404.2 637.1 L405.2 636.6 L406.1 635.7 L407.1 636.4 L408.1 636.6 L409 635.4 L410 636.1 L410.9 636.7 L411.9 635.5 L412.8 636.2 L413.8 632.8 L414.7 633.7 L415.7 635.7 L416.6 636.3 L417.6 634.8 L418.6 634.1 L419.5 636.1 L420.5 635.1 L421.4 635.5 L422.4 634.8 L423.3 632.1 L424.3 633.5 L425.2 634 L426.2 634.9 L427.1 633.9 L428.1 634.6 L429.1 635.9 L430 636.4 L431 635.9 L431.9 634 L432.9 632.9 L433.8 634.6 L434.8 634.9 L435.7 636.4 L436.7 635.9 L437.6 633.3 L438.6 635.9 L439.5 635.1 L440.5 636 L441.5 633.5 L442.4 634 L443.4 634.1 L444.3 635.8 L445.3 627.1 L446.2 631.6 L447.2 636.9 L448.1 637 L449.1 635.1 L450 635.1 L451 635.7 L451.9 634.9 L452.9 633.1 L453.9 636.1 L454.8 635.6 L455.8 633.6 L456.7 634.1 L457.7 635.4 L458.6 635.2 L459.6 634.7 L460.5 635.6 L461.5 633.3 L462.4 634 L463.4 636.2 L464.4 636.2 L465.3 635.8 L466.3 636.5 L467.2 637 L468.2 635.9 L469.1 634.3 L470.1 633.7 L471 633.5 L472 633.8 L472.9 633.3 L473 634.8 L473.6 606.6 L473.9 606.5 L474.5 606.8 L474.8 623.4 L475.1 633.9 L475.8 634.7 L476.8 635.3 L477.7 634.1 L478.7 635.6 L479.6 636.5 L480.6 634.2 L481.5 635.2 L482.5 636.2 L483.4 635.7 L484.4 635.1 L485.3 635.2 L486.3 635.8 L487.3 636.1 L488.2 635.3 L489.2 636.9 L490.1 635.4 L491.1 635.7 L492 636.4 L493 635.5 L493.9 636.3 L494.9 631.7 L495.8 634.9 L496.8 634 L497.8 634.8 L498.7 633.4 L499.7 635.1 L500.6 627.1 L500.9 625.4 L501.6 632 L502.5 635.3 L503.5 632.6 L504.4 634.7 L505.4 633.9 L506.3 632.7 L507.3 636.2 L508.2 634.6 L509.2 636.2 L509.2 637.7Z" stroke="none" fill="#a8d48c" stroke-width="1"/>
<path d="M108.5 636.9 L109.4 637.3 L110.4 637.2 L111.3 635.5 L112.3 636.2 L113.2 637.1 L114.2 636.3 L115.1 636.9 L116.1 637.1 L117 636.5 L118 636.8 L118.9 634.5 L119.9 636.8 L120.9 636.6 L121.8 637.2 L122.8 636.9 L123.7 635.6 L124.7 634.5 L125.6 636.5 L126.6 635.7 L127.5 635.7 L128.5 636.4 L129.4 634.8 L130.4 633.9 L131.3 636.8 L132.3 635.5 L133.3 636.8 L134.2 636 L135.2 637 L135.4 635.7 L135.8 574 L136.1 574 L136.1 577.3 L136.5 633.4 L137.1 637 L138 634.6 L139 636.3 L139.9 634.6 L140.9 634.2 L141.8 636.8 L142.8 636.9 L143.8 635.5 L144.7 635 L145.7 636.3 L146.6 636.4 L147.6 636.8 L148.5 636 L149.5 636.9 L150.4 634.5 L151.4 634.8 L152.3 634.6 L153.3 635.3 L154.2 636.6 L155.2 635.6 L156.2 635.1 L157.1 636.9 L158.1 635.7 L159 635.3 L160 635.9 L160.9 633.3 L161.9 634.3 L162.8 634.9 L163.8 636.4 L164.7 635.4 L165.7 636.1 L166.7 635.8 L167.6 633.3 L168 630.3 L168.6 634.6 L169.5 632.1 L170.5 634.5 L171.4 637.1 L172.4 632.1 L173.3 636.7 L174.3 635.4 L175.2 633.1 L176.2 630.8 L177.2 634.9 L178.1 632.7 L179 630.3 L179.1 630.7 L180 634.8 L181 634.6 L181.9 635.9 L182.9 634.1 L183.8 633.9 L184.8 634.8 L185.7 636.4 L186.7 636.2 L187.6 635.8 L188.6 637 L189.6 631 L190.2 611.1 L190.5 618.4 L191.5 632.7 L192.4 634.6 L193.4 636.8 L194.3 635.8 L195.3 634 L196.2 636 L197.2 634.5 L198.1 635.3 L199.1 635.9 L200.1 636.1 L201 636.1 L202 636 L202.9 635.4 L203.9 635.4 L204.8 633.4 L205.8 637 L206.6 630.1 L206.7 620.2 L207.4 570.3 L207.7 532.8 L207.9 504 L208.6 503.5 L208.9 504 L209.6 572.9 L209.6 573.5 L210.2 569.2 L210.5 569 L211.2 569.1 L211.5 590.2 L212 625.7 L212.5 627.3 L213.4 629.7 L214.4 629.4 L215.3 630.3 L216.3 630.2 L217.2 627.8 L218.2 623.8 L219.1 629.1 L220.1 622.4 L221 608.7 L221 609.1 L222 629.4 L222.9 608.4 L223 608.2 L223.9 623.2 L224.9 630 L225.8 628.2 L226.8 629.3 L227.7 625.1 L228 623.6 L228.7 629.4 L229.6 629.6 L230.6 624.4 L231.5 627 L232.5 617.5 L233.4 624 L234.4 625.4 L235.4 629.6 L236.3 631 L237.3 628.6 L238.2 629.2 L239.2 626.9 L239.8 620.6 L240.1 622.3 L241.1 626.7 L242 623.3 L243 628.7 L243.9 623.9 L244 623.7 L244.9 626.3 L245.9 624.9 L246.8 627.1 L247.8 631.1 L247.8 623.8 L248.7 604 L249.7 583.1 L249.8 580.1 L250.6 579.3 L251.5 578.2 L251.6 575.6 L252.5 547.3 L252.5 543.9 L253.4 434.5 L253.5 434.2 L254.4 434.3 L254.6 433.9 L255.4 452.1 L255.5 454.4 L256.3 514.6 L256.5 525.2 L257.3 545 L257.8 557.6 L258.3 546.9 L259 529.2 L259.2 527.7 L259.8 525.2 L260.2 525.4 L260.8 525.1 L261.1 542.1 L261.5 562.7 L262.1 591.6 L262.3 603.5 L263 616.8 L263.5 625 L264 628.7 L264.9 625.8 L265.9 629.6 L266.8 629.2 L267.8 633.8 L268.8 632.5 L269.7 633.5 L270.7 631.4 L271.6 633.2 L272.6 630.8 L273.5 628.3 L274.5 634.3 L275.4 633.1 L276.4 632 L277.3 625 L278.3 630.9 L279.2 625.8 L280.2 626.6 L281.2 621.7 L282.1 621.1 L283.1 626.5 L284 627.6 L285 628.9 L285.9 626.1 L286.9 622 L287.8 626.6 L288.8 623.8 L289.7 630.6 L290.7 625.2 L291.4 607 L291.6 610.8 L292.6 625.1 L293.2 608.3 L293.6 616 L294.5 623 L295.5 627.9 L296.4 630.5 L297.4 628 L298.3 626.4 L299.3 628.5 L300.2 628.2 L301.2 624.6 L302.1 625.7 L303.1 627.1 L304.1 625.6 L305 628 L306 628.8 L306.9 633.5 L307.9 629.7 L308.8 630.8 L309.8 632.3 L310.7 632.4 L311.7 633.2 L312.6 633.3 L313.6 631.5 L314.6 631.2 L315.5 629.7 L316.5 631.5 L317.4 631.6 L318.4 633.2 L319.3 634 L320.3 633.1 L321.2 633 L322.2 633.9 L323.1 634.6 L324.1 633.8 L325 637.8 L326 633.8 L327 637.8 L327.9 634.4 L328.9 637.8 L329.8 637.7 L330.8 637.8 L331.7 635.2 L332.7 637.8 L333.6 636 L334.6 636.6 L335.5 636.1 L336.5 636 L337.4 636.3 L338.4 635.6 L339.4 635.7 L340.3 636.9 L341.3 635.8 L342.2 636.5 L343.2 635.8 L344.1 636.6 L345.1 636.4 L346 636.2 L347 636.3 L347.9 636 L348.9 637.1 L349.9 636.5 L350.8 636.5 L351.8 634.6 L352.7 636.6 L353.7 637 L354.6 637 L355.6 634.2 L356.5 637.2 L357.5 635.8 L358.4 636.2 L359.4 636.1 L360.4 634.3 L361.3 634.8 L362.3 637.2 L363.2 636.7 L364.2 636.4 L365.1 632.7 L366.1 636.7 L367 635.6 L368 637.1 L368.9 636.3 L369.9 635.7 L370.8 634.3 L371.8 633.5 L372.8 634 L373.7 631.7 L374.7 632.7 L375.6 632.2 L376.6 635.4 L377.5 634.9 L378.5 632.4 L379.4 634.8 L380.4 634.8 L381.3 633.7 L382.3 624.4 L382.5 623.5 L383.2 631.2 L384.2 636.6 L385.2 636.5 L386.1 635.7 L387.1 635.7 L388 635.5 L389 636.7 L389.9 636.6 L390.9 637.2 L391.8 636.6 L392.8 637.1 L393.7 636.5 L394.7 635.7 L395.7 637.2 L396.6 635 L397.6 637.1 L398.5 637.2 L399.5 636.5 L400.4 636.7 L401.4 634.6 L402.3 635 L403.3 636.5 L404.2 637.1 L405.2 636.6 L406.1 635.7 L407.1 636.4 L408.1 636.6 L409 635.4 L410 636.1 L410.9 636.7 L411.9 635.5 L412.8 636.2 L413.8 632.8 L414.7 633.7 L415.7 635.7 L416.6 636.3 L417.6 634.8 L418.6 634.1 L419.5 636.1 L420.5 635.1 L421.4 635.5 L422.4 634.8 L423.3 632.1 L424.3 633.5 L425.2 634 L426.2 634.9 L427.1 633.9 L428.1 634.6 L429.1 635.9 L430 636.4 L431 635.9 L431.9 634 L432.9 632.9 L433.8 634.6 L434.8 634.9 L435.7 636.4 L436.7 635.9 L437.6 633.3 L438.6 635.9 L439.5 635.1 L440.5 636 L441.5 633.5 L442.4 634 L443.4 634.1 L444.3 635.8 L445.3 627.1 L446.2 631.6 L447.2 636.9 L448.1 637 L449.1 635.1 L450 635.1 L451 635.7 L451.9 634.9 L452.9 633.1 L453.9 636.1 L454.8 635.6 L455.8 633.6 L456.7 634.1 L457.7 635.4 L458.6 635.2 L459.6 634.7 L460.5 635.6 L461.5 633.3 L462.4 634 L463.4 636.2 L464.4 636.2 L465.3 635.8 L466.3 636.5 L467.2 637 L468.2 635.9 L469.1 634.3 L470.1 633.7 L471 633.5 L472 633.8 L472.9 633.3 L473 634.8 L473.6 606.6 L473.9 606.5 L474.5 606.8 L474.8 623.4 L475.1 633.9 L475.8 634.7 L476.8 635.3 L477.7 634.1 L478.7 635.6 L479.6 636.5 L480.6 634.2 L481.5 635.2 L482.5 636.2 L483.4 635.7 L484.4 635.1 L485.3 635.2 L486.3 635.8 L487.3 636.1 L488.2 635.3 L489.2 636.9 L490.1 635.4 L491.1 635.7 L492 636.4 L493 635.5 L493.9 636.3 L494.9 631.7 L495.8 634.9 L496.8 634 L497.8 634.8 L498.7 633.4 L499.7 635.1 L500.6 627.1 L500.9 625.4 L501.6 632 L502.5 635.3 L503.5 632.6 L504.4 634.7 L505.4 633.9 L506.3 632.7 L507.3 636.2 L508.2 634.6 L509.2 636.2" stroke="#4bb14e" fill="none" stroke-width="2.5" stroke-linejoin="round"/>
<path d="M108.45 425.5H509.2V648H108.45Z" stroke="#231f20" fill="none" stroke-width="1.15"/>
<line x1="97.85000000000001" y1="489.2" x2="108.45" y2="489.2" stroke="#231f20" stroke-width="1.15"/>
<line x1="97.85000000000001" y1="563.5" x2="108.45" y2="563.5" stroke="#231f20" stroke-width="1.15"/>
<line x1="97.85000000000001" y1="637.7" x2="108.45" y2="637.7" stroke="#231f20" stroke-width="1.15"/>
<line x1="108.45" y1="648" x2="108.45" y2="658.6" stroke="#231f20" stroke-width="1.15"/>
<line x1="208.5" y1="648" x2="208.5" y2="658.6" stroke="#231f20" stroke-width="1.15"/>
<line x1="409" y1="648" x2="409" y2="658.6" stroke="#231f20" stroke-width="1.15"/>
<line x1="509.2" y1="648" x2="509.2" y2="658.6" stroke="#231f20" stroke-width="1.15"/>
<text x="87" y="498.5" font-size="27.4" text-anchor="end">40</text>
<text x="87" y="573" font-size="27.4" text-anchor="end">20</text>
<text x="87" y="647.2" font-size="27.4" text-anchor="end">0</text>
<text x="107.6" y="687.3" font-size="27.4" text-anchor="middle">–0.5</text>
<text x="208.2" y="687.3" font-size="27.4" text-anchor="middle">5′</text>
<text x="410.5" y="686.8" font-size="27.4" text-anchor="middle">3′</text>
<text x="490" y="686.8" font-size="27.4" text-anchor="middle">0.5 kb</text>
<g transform="translate(209 492.7) rotate(90)"><path d="M-24.5 0H-10.955" stroke="#5fc8d7" stroke-width="2.1" fill="none"/><path d="M0 0L-14.5 -8.0Q-12.33 -3.20 -11.46 0Q-12.33 3.20 -14.5 8.0Z" fill="#5fc8d7"/></g>
<g transform="translate(264.9 450.5) rotate(136.5)"><path d="M-24.5 0H-10.955" stroke="#9e67ab" stroke-width="2.1" fill="none"/><path d="M0 0L-14.5 -8.0Q-12.33 -3.20 -11.46 0Q-12.33 3.20 -14.5 8.0Z" fill="#9e67ab"/></g>
<text transform="translate(539.5 376) scale(0.885 1)" font-size="33" font-weight="bold">d</text>
<text x="787.4" y="379.6" font-size="27.4" text-anchor="middle">LTBs pri-miRNA processing</text>
<text x="787.4" y="406.8" font-size="27.4" text-anchor="middle">(without miR159a and b)</text>
<path d="M586.4 637.5 L586.4 635.2 L587.6 631.6 L588 630.2 L588.8 634.4 L590.1 636.2 L591.3 630.4 L592.5 632.2 L593.7 634.1 L594.9 634.4 L596.1 634.1 L597.4 635.5 L598.6 633.6 L599.8 636.4 L601 630 L602.2 635.2 L603.4 634.9 L604.7 633.7 L605.9 632.6 L607.1 634.2 L608 628.6 L608.3 629.9 L609.5 634.9 L610.7 634.9 L612 634.2 L613.2 636.4 L614.4 634.9 L615.6 634 L616.8 634.6 L618 629.8 L619.3 635.1 L620.5 633.7 L621.7 636.4 L622.9 636.3 L624.1 632.2 L625.4 630 L626.6 634.6 L627.8 633.1 L629 636.3 L630.2 634.6 L631.4 634.7 L632.7 630.5 L633.9 636.5 L635.1 635.6 L636.3 628.3 L636.6 627.2 L637.5 633.5 L638.7 635.2 L640 636.5 L641.2 632.4 L642.4 636.5 L643.6 631.3 L644.8 636.6 L646 634.1 L647.3 632.5 L648.5 635.6 L649.7 632.9 L650.9 636.4 L652.1 631.5 L653.4 636.5 L654.6 633.3 L655.8 633.6 L657 636.6 L658.2 635.5 L659.4 635.1 L660.7 632.5 L661.9 631.7 L663.1 635.7 L664.3 632.3 L665.5 636.7 L666.7 635.8 L668 635.5 L669.2 636.7 L670.4 636.5 L671.6 636.3 L672.8 634.8 L674 636.2 L675.3 631.2 L676.5 633.6 L677.7 634.9 L678.9 631.4 L680.1 633.6 L681.3 633.8 L682.6 626.5 L682.8 625.3 L683.8 633.2 L685 634.1 L685.6 628.8 L686.2 562.5 L686.3 553.4 L686.6 439.2 L687 439.3 L687.4 533.7 L687.6 569.9 L688.4 570.6 L688.7 570.7 L689 570.3 L689.7 625.8 L689.9 635.1 L691.1 629.1 L692.3 634.1 L693.5 623.7 L693.6 623.6 L694.7 634.1 L696 635.5 L697.2 633.4 L698.4 631.3 L699 628.1 L699.6 631.3 L700.8 633.6 L702 634.6 L703.3 631.5 L704.5 633.3 L705.7 626.1 L706.9 634.6 L708.1 636.5 L709.3 633.9 L710 628.7 L710.6 572.6 L710.7 558.9 L711.1 486.8 L711.7 486.8 L711.8 500.7 L712.3 592.4 L713 605.2 L713.6 615.9 L714.2 626 L714.4 628.9 L715.4 635.5 L716.6 635.9 L717.9 635.6 L719.1 636.2 L720.3 636.1 L721.5 636 L722.7 632.8 L724 636.5 L725.2 634.4 L726.4 632.7 L727.6 635 L728.8 636.4 L730 636.5 L731.3 634.2 L732.5 634.2 L732.8 631.5 L733.6 591.9 L733.7 591.8 L734.9 591.8 L735 591.9 L735.8 598.1 L736.1 588.1 L736.7 570.5 L737.3 570.8 L738 570.7 L738.6 591.6 L738.8 600.4 L739.8 614.4 L740 617.3 L741 626.3 L741.5 630.3 L742.2 634.1 L743.4 635.4 L744.6 623.4 L745.9 629.7 L746 629.3 L747.1 635.3 L748.3 636.6 L749.5 635.7 L750.7 633.2 L751.9 634.6 L753.2 628.6 L753.7 624.5 L754.4 631 L755.6 636.1 L756.8 629.6 L758 632.5 L759.3 635.5 L760.5 630.7 L761.7 636 L761.8 631.6 L762.5 615.8 L762.9 616.1 L763.7 616 L764.1 624 L764.5 631.4 L765.3 630.6 L766.6 630.4 L767.8 633.6 L769 635.6 L770.2 635.2 L771.4 633.4 L772.6 636.2 L773.9 633.8 L775.1 633.6 L776.3 636 L777.5 636.5 L778.7 636.5 L779.9 635.5 L781.2 634.7 L782.4 636.8 L783.6 635.4 L784.8 636.6 L786 635.6 L787.2 636.1 L788.5 636.3 L789.7 635.4 L790.9 636 L792.1 632.5 L793.3 633.3 L794.6 635.8 L795.8 636.5 L797 634.3 L798.2 634.8 L799.4 633.9 L800.6 634.5 L801.9 636.2 L803.1 636.8 L804.3 636.6 L805.5 636.7 L806.7 636.7 L807.9 635.5 L809.2 636.8 L810.4 636.5 L811.6 635.7 L812.8 636.7 L814 635.5 L815.2 637 L816.5 635 L817.7 636.1 L818.9 637.1 L820.1 636.2 L821.3 636.9 L822.6 636.5 L823.8 636.7 L825 635.3 L826.2 634.7 L827.4 634 L828.6 636.2 L829.9 634.9 L831.1 636.8 L832.3 636.6 L833.5 636.6 L834.7 636.3 L835.9 633.2 L836.6 627.7 L837.2 632.1 L838.4 635.9 L839.6 636.5 L840.8 636.5 L842 634.6 L843.2 636.4 L844.5 636.4 L845.7 636.9 L846.9 636.8 L848.1 636.5 L849.3 637 L850.5 636.1 L851.8 636.4 L853 636.3 L854.2 635.7 L855.4 635.8 L856.6 635 L857.9 637 L859.1 636.4 L860.3 636.2 L861.5 631.4 L862.7 634.8 L863.9 634.8 L865.2 637.1 L866.4 635.2 L867.6 636 L868.8 636.7 L870 635.3 L871.2 636.2 L872.5 635.8 L873.7 632.4 L874.9 630.2 L876.1 633.6 L877.3 635.4 L878.5 634.1 L879.8 635.5 L881 636.1 L882.2 634 L883.4 636.3 L884.6 634.7 L885.8 634.3 L887.1 636 L888.3 635.5 L889.5 636.7 L890.7 634.7 L891.9 636.5 L893.2 635.1 L894.4 636.5 L895.6 636.2 L896.8 632 L898 635.1 L899.2 632.9 L900.5 632 L901.7 634.2 L902.9 634.9 L904.1 633.6 L905.3 636.3 L906.5 635.7 L907.8 635.7 L908.8 624.8 L909 625.5 L910.2 636.3 L911.4 634.7 L912.6 636 L913.8 634.7 L915.1 635 L916.3 634.9 L917.5 635.6 L918.7 630.8 L919.9 624 L921.2 630.8 L922.4 633.5 L923.6 630.2 L924.8 631.5 L926 631.2 L927.2 632.4 L928 626.2 L928.5 628.6 L929.7 631.6 L930.9 631.2 L932.1 630.6 L933.3 636.3 L934.5 635.4 L935.8 632.1 L937 633.2 L938.2 635.2 L939.4 633 L940.6 632.1 L941.8 634.7 L943.1 634.8 L944.3 631 L945.5 630.6 L946.7 635 L947.9 633.5 L949.1 632.9 L950.4 633.4 L951.6 631.2 L952.8 633.9 L954 633.1 L955.2 616.1 L955.3 616.1 L956.5 635.3 L957.7 633.7 L958.9 635.3 L960.1 631.6 L961.3 635.1 L962.5 636 L963.8 635.9 L965 626.1 L966.2 629.4 L967.4 636 L968.6 635.1 L969.8 634.4 L971.1 633.4 L972.3 635.4 L973.5 634.3 L974.7 632.4 L975.9 636.2 L977.1 631.7 L978.4 634.8 L979.6 627 L980.3 622.4 L980.8 627.8 L982 635.7 L983.2 633 L984.4 618.4 L984.6 617.7 L985.7 634.9 L986.9 623.3 L987 623.4 L988.1 637.5Z" stroke="none" fill="#a8d48c" stroke-width="1"/>
<path d="M586.4 635.2 L587.6 631.6 L588 630.2 L588.8 634.4 L590.1 636.2 L591.3 630.4 L592.5 632.2 L593.7 634.1 L594.9 634.4 L596.1 634.1 L597.4 635.5 L598.6 633.6 L599.8 636.4 L601 630 L602.2 635.2 L603.4 634.9 L604.7 633.7 L605.9 632.6 L607.1 634.2 L608 628.6 L608.3 629.9 L609.5 634.9 L610.7 634.9 L612 634.2 L613.2 636.4 L614.4 634.9 L615.6 634 L616.8 634.6 L618 629.8 L619.3 635.1 L620.5 633.7 L621.7 636.4 L622.9 636.3 L624.1 632.2 L625.4 630 L626.6 634.6 L627.8 633.1 L629 636.3 L630.2 634.6 L631.4 634.7 L632.7 630.5 L633.9 636.5 L635.1 635.6 L636.3 628.3 L636.6 627.2 L637.5 633.5 L638.7 635.2 L640 636.5 L641.2 632.4 L642.4 636.5 L643.6 631.3 L644.8 636.6 L646 634.1 L647.3 632.5 L648.5 635.6 L649.7 632.9 L650.9 636.4 L652.1 631.5 L653.4 636.5 L654.6 633.3 L655.8 633.6 L657 636.6 L658.2 635.5 L659.4 635.1 L660.7 632.5 L661.9 631.7 L663.1 635.7 L664.3 632.3 L665.5 636.7 L666.7 635.8 L668 635.5 L669.2 636.7 L670.4 636.5 L671.6 636.3 L672.8 634.8 L674 636.2 L675.3 631.2 L676.5 633.6 L677.7 634.9 L678.9 631.4 L680.1 633.6 L681.3 633.8 L682.6 626.5 L682.8 625.3 L683.8 633.2 L685 634.1 L685.6 628.8 L686.2 562.5 L686.3 553.4 L686.6 439.2 L687 439.3 L687.4 533.7 L687.6 569.9 L688.4 570.6 L688.7 570.7 L689 570.3 L689.7 625.8 L689.9 635.1 L691.1 629.1 L692.3 634.1 L693.5 623.7 L693.6 623.6 L694.7 634.1 L696 635.5 L697.2 633.4 L698.4 631.3 L699 628.1 L699.6 631.3 L700.8 633.6 L702 634.6 L703.3 631.5 L704.5 633.3 L705.7 626.1 L706.9 634.6 L708.1 636.5 L709.3 633.9 L710 628.7 L710.6 572.6 L710.7 558.9 L711.1 486.8 L711.7 486.8 L711.8 500.7 L712.3 592.4 L713 605.2 L713.6 615.9 L714.2 626 L714.4 628.9 L715.4 635.5 L716.6 635.9 L717.9 635.6 L719.1 636.2 L720.3 636.1 L721.5 636 L722.7 632.8 L724 636.5 L725.2 634.4 L726.4 632.7 L727.6 635 L728.8 636.4 L730 636.5 L731.3 634.2 L732.5 634.2 L732.8 631.5 L733.6 591.9 L733.7 591.8 L734.9 591.8 L735 591.9 L735.8 598.1 L736.1 588.1 L736.7 570.5 L737.3 570.8 L738 570.7 L738.6 591.6 L738.8 600.4 L739.8 614.4 L740 617.3 L741 626.3 L741.5 630.3 L742.2 634.1 L743.4 635.4 L744.6 623.4 L745.9 629.7 L746 629.3 L747.1 635.3 L748.3 636.6 L749.5 635.7 L750.7 633.2 L751.9 634.6 L753.2 628.6 L753.7 624.5 L754.4 631 L755.6 636.1 L756.8 629.6 L758 632.5 L759.3 635.5 L760.5 630.7 L761.7 636 L761.8 631.6 L762.5 615.8 L762.9 616.1 L763.7 616 L764.1 624 L764.5 631.4 L765.3 630.6 L766.6 630.4 L767.8 633.6 L769 635.6 L770.2 635.2 L771.4 633.4 L772.6 636.2 L773.9 633.8 L775.1 633.6 L776.3 636 L777.5 636.5 L778.7 636.5 L779.9 635.5 L781.2 634.7 L782.4 636.8 L783.6 635.4 L784.8 636.6 L786 635.6 L787.2 636.1 L788.5 636.3 L789.7 635.4 L790.9 636 L792.1 632.5 L793.3 633.3 L794.6 635.8 L795.8 636.5 L797 634.3 L798.2 634.8 L799.4 633.9 L800.6 634.5 L801.9 636.2 L803.1 636.8 L804.3 636.6 L805.5 636.7 L806.7 636.7 L807.9 635.5 L809.2 636.8 L810.4 636.5 L811.6 635.7 L812.8 636.7 L814 635.5 L815.2 637 L816.5 635 L817.7 636.1 L818.9 637.1 L820.1 636.2 L821.3 636.9 L822.6 636.5 L823.8 636.7 L825 635.3 L826.2 634.7 L827.4 634 L828.6 636.2 L829.9 634.9 L831.1 636.8 L832.3 636.6 L833.5 636.6 L834.7 636.3 L835.9 633.2 L836.6 627.7 L837.2 632.1 L838.4 635.9 L839.6 636.5 L840.8 636.5 L842 634.6 L843.2 636.4 L844.5 636.4 L845.7 636.9 L846.9 636.8 L848.1 636.5 L849.3 637 L850.5 636.1 L851.8 636.4 L853 636.3 L854.2 635.7 L855.4 635.8 L856.6 635 L857.9 637 L859.1 636.4 L860.3 636.2 L861.5 631.4 L862.7 634.8 L863.9 634.8 L865.2 637.1 L866.4 635.2 L867.6 636 L868.8 636.7 L870 635.3 L871.2 636.2 L872.5 635.8 L873.7 632.4 L874.9 630.2 L876.1 633.6 L877.3 635.4 L878.5 634.1 L879.8 635.5 L881 636.1 L882.2 634 L883.4 636.3 L884.6 634.7 L885.8 634.3 L887.1 636 L888.3 635.5 L889.5 636.7 L890.7 634.7 L891.9 636.5 L893.2 635.1 L894.4 636.5 L895.6 636.2 L896.8 632 L898 635.1 L899.2 632.9 L900.5 632 L901.7 634.2 L902.9 634.9 L904.1 633.6 L905.3 636.3 L906.5 635.7 L907.8 635.7 L908.8 624.8 L909 625.5 L910.2 636.3 L911.4 634.7 L912.6 636 L913.8 634.7 L915.1 635 L916.3 634.9 L917.5 635.6 L918.7 630.8 L919.9 624 L921.2 630.8 L922.4 633.5 L923.6 630.2 L924.8 631.5 L926 631.2 L927.2 632.4 L928 626.2 L928.5 628.6 L929.7 631.6 L930.9 631.2 L932.1 630.6 L933.3 636.3 L934.5 635.4 L935.8 632.1 L937 633.2 L938.2 635.2 L939.4 633 L940.6 632.1 L941.8 634.7 L943.1 634.8 L944.3 631 L945.5 630.6 L946.7 635 L947.9 633.5 L949.1 632.9 L950.4 633.4 L951.6 631.2 L952.8 633.9 L954 633.1 L955.2 616.1 L955.3 616.1 L956.5 635.3 L957.7 633.7 L958.9 635.3 L960.1 631.6 L961.3 635.1 L962.5 636 L963.8 635.9 L965 626.1 L966.2 629.4 L967.4 636 L968.6 635.1 L969.8 634.4 L971.1 633.4 L972.3 635.4 L973.5 634.3 L974.7 632.4 L975.9 636.2 L977.1 631.7 L978.4 634.8 L979.6 627 L980.3 622.4 L980.8 627.8 L982 635.7 L983.2 633 L984.4 618.4 L984.6 617.7 L985.7 634.9 L986.9 623.3 L987 623.4" stroke="#4bb14e" fill="none" stroke-width="2.5" stroke-linejoin="round"/>
<path d="M586.4 424.8H988.1V647.9H586.4Z" stroke="#231f20" fill="none" stroke-width="1.15"/>
<line x1="575.9" y1="469.5" x2="586.4" y2="469.5" stroke="#231f20" stroke-width="1.15"/>
<line x1="575.9" y1="637.5" x2="586.4" y2="637.5" stroke="#231f20" stroke-width="1.15"/>
<line x1="586.4" y1="647.9" x2="586.4" y2="658.4" stroke="#231f20" stroke-width="1.15"/>
<line x1="687" y1="647.9" x2="687" y2="658.4" stroke="#231f20" stroke-width="1.15"/>
<line x1="887.7" y1="647.9" x2="887.7" y2="658.4" stroke="#231f20" stroke-width="1.15"/>
<line x1="988.1" y1="647.9" x2="988.1" y2="658.4" stroke="#231f20" stroke-width="1.15"/>
<text x="569.9" y="479" font-size="27.4" text-anchor="end">30</text>
<text x="569.9" y="647" font-size="27.4" text-anchor="end">0</text>
<text x="586.1" y="687.9" font-size="27.4" text-anchor="middle">–0.5</text>
<text x="688.8" y="687.9" font-size="27.4" text-anchor="middle">5′</text>
<text x="890" y="687.9" font-size="27.4" text-anchor="middle">3′</text>
<text x="969.3" y="687.9" font-size="27.4" text-anchor="middle">0.5 kb</text>
<g transform="translate(695.8 450.6) rotate(137.8)"><path d="M-24.5 0H-10.955" stroke="#5fc8d7" stroke-width="2.1" fill="none"/><path d="M0 0L-14.5 -8.0Q-12.33 -3.20 -11.46 0Q-12.33 3.20 -14.5 8.0Z" fill="#5fc8d7"/></g>
<g transform="translate(711.4 480.5) rotate(90)"><path d="M-24.5 0H-10.955" stroke="#9e67ab" stroke-width="2.1" fill="none"/><path d="M0 0L-14.5 -8.0Q-12.33 -3.20 -11.46 0Q-12.33 3.20 -14.5 8.0Z" fill="#9e67ab"/></g>
<g transform="translate(736.8 558.5) rotate(90)"><path d="M-24.5 0H-10.955" stroke="#4db848" stroke-width="2.1" fill="none"/><path d="M0 0L-14.5 -8.0Q-12.33 -3.20 -11.46 0Q-12.33 3.20 -14.5 8.0Z" fill="#4db848"/></g>
<g transform="translate(763.1 607.6) rotate(90)"><path d="M-24.5 0H-10.955" stroke="#ed1c2e" stroke-width="2.1" fill="none"/><path d="M0 0L-14.5 -8.0Q-12.33 -3.20 -11.46 0Q-12.33 3.20 -14.5 8.0Z" fill="#ed1c2e"/></g>
<text transform="translate(1020.7 376) scale(0.885 1)" font-size="33" font-weight="bold">e</text>
<text x="1332.7" y="382.2" font-size="27.4" text-anchor="middle">LTB/LTBs miRNA-3p</text>
<text x="1044" y="499.7" font-size="27.4" text-anchor="middle" transform="rotate(-90 1044 499.7)">Mean plaNET-seq</text>
<text x="1069.4" y="499.7" font-size="27.4" text-anchor="middle" transform="rotate(-90 1069.4 499.7)">signal</text>
<text x="1066.7" y="739" font-size="27.4" text-anchor="middle" transform="rotate(-90 1066.7 739)">Coverage</text>
<path d="M1159.8 578.1 L1159.8 576.6 L1162.1 576.6 L1164.4 576.8 L1166.7 577.3 L1169 577.4 L1171.3 577.8 L1173.6 576.6 L1175.9 576.8 L1178.2 577 L1180.5 576.5 L1182.8 577 L1185.1 576.4 L1187.4 577.2 L1189.7 577 L1192 577.1 L1194.3 576.8 L1196.6 575.8 L1198.9 576 L1201.2 576.3 L1203.5 577.4 L1205.8 577.6 L1208.1 576.9 L1210.4 577.4 L1212.7 576.2 L1215 576.5 L1217.3 575.9 L1219.6 576 L1221.9 577.4 L1224.2 576.9 L1226.5 576.9 L1228.8 577.5 L1231.1 577 L1233.4 576.1 L1235.7 576.9 L1238 576.7 L1240.3 577.3 L1242.6 576.9 L1244.9 577.7 L1247.2 577.1 L1249.5 577.1 L1251.8 576.8 L1254.1 576.2 L1256.4 576.6 L1258.7 576.7 L1261 576.9 L1263.3 576.6 L1265.6 576.6 L1267.9 576.6 L1270.2 575.7 L1272.5 576.7 L1274.8 576.6 L1277.1 577 L1279.4 577.7 L1281.7 577.1 L1284 576.5 L1286.3 576.4 L1288.6 576.6 L1290.9 576 L1293.2 577.5 L1295.5 576.7 L1297.8 577.6 L1300.1 577.5 L1302.4 576.1 L1304.7 576.7 L1307 576.2 L1309.3 576.7 L1311.6 576.4 L1313.9 576.7 L1316.2 576.9 L1318.5 577.5 L1320.8 576.2 L1323.1 576.6 L1325.4 576.9 L1327.7 577.2 L1330 576.9 L1332.3 577.1 L1334.6 577.2 L1336.9 577.2 L1339.2 576 L1341.5 576.6 L1343.8 576.8 L1346.1 577.2 L1348.4 576.6 L1350.7 577.8 L1353 576.7 L1355.3 576.6 L1357.6 576.6 L1359.9 576.8 L1362.2 576.3 L1364.5 577.3 L1366.8 577.2 L1369.1 577.1 L1371.4 576.9 L1373.7 576.3 L1376 575.9 L1378.3 575.9 L1380.6 576.7 L1382.9 577.5 L1385.2 576.8 L1387.5 576.7 L1389.8 577.6 L1392.1 576.7 L1394.4 576.2 L1396.7 576 L1399 576.7 L1401.3 577.4 L1403.6 577.2 L1405.9 577.2 L1408.2 576.4 L1408.9 575.2 L1417.6 404.2 L1419 404.2 L1422.9 575.2 L1424.3 577.8 L1426.6 577.1 L1428.9 576.9 L1431.2 575.8 L1433.5 576.3 L1435.8 576.3 L1438.1 577.5 L1440.4 577.1 L1442.7 577.1 L1445 577.4 L1447.3 576.9 L1449.6 576.9 L1451.9 576.4 L1454.2 576.8 L1456.5 577.4 L1458.8 577.3 L1461.1 576.9 L1463.4 576.6 L1465.7 576 L1468 576.2 L1470.3 577.1 L1472.6 577.4 L1474.9 577.4 L1477.2 577.3 L1479.5 576.9 L1481.8 576.2 L1484.1 576.1 L1486.4 576.7 L1488.7 577 L1491 576.8 L1493.3 577.6 L1495.6 577.6 L1497.9 577.2 L1500.2 576.8 L1502.5 576.6 L1504.8 576.2 L1506.2 576.5 L1506.2 578.1Z" stroke="none" fill="#9dd3e6" stroke-width="1"/>
<path d="M1159.8 576.6 L1162.1 576.6 L1164.4 576.8 L1166.7 577.3 L1169 577.4 L1171.3 577.8 L1173.6 576.6 L1175.9 576.8 L1178.2 577 L1180.5 576.5 L1182.8 577 L1185.1 576.4 L1187.4 577.2 L1189.7 577 L1192 577.1 L1194.3 576.8 L1196.6 575.8 L1198.9 576 L1201.2 576.3 L1203.5 577.4 L1205.8 577.6 L1208.1 576.9 L1210.4 577.4 L1212.7 576.2 L1215 576.5 L1217.3 575.9 L1219.6 576 L1221.9 577.4 L1224.2 576.9 L1226.5 576.9 L1228.8 577.5 L1231.1 577 L1233.4 576.1 L1235.7 576.9 L1238 576.7 L1240.3 577.3 L1242.6 576.9 L1244.9 577.7 L1247.2 577.1 L1249.5 577.1 L1251.8 576.8 L1254.1 576.2 L1256.4 576.6 L1258.7 576.7 L1261 576.9 L1263.3 576.6 L1265.6 576.6 L1267.9 576.6 L1270.2 575.7 L1272.5 576.7 L1274.8 576.6 L1277.1 577 L1279.4 577.7 L1281.7 577.1 L1284 576.5 L1286.3 576.4 L1288.6 576.6 L1290.9 576 L1293.2 577.5 L1295.5 576.7 L1297.8 577.6 L1300.1 577.5 L1302.4 576.1 L1304.7 576.7 L1307 576.2 L1309.3 576.7 L1311.6 576.4 L1313.9 576.7 L1316.2 576.9 L1318.5 577.5 L1320.8 576.2 L1323.1 576.6 L1325.4 576.9 L1327.7 577.2 L1330 576.9 L1332.3 577.1 L1334.6 577.2 L1336.9 577.2 L1339.2 576 L1341.5 576.6 L1343.8 576.8 L1346.1 577.2 L1348.4 576.6 L1350.7 577.8 L1353 576.7 L1355.3 576.6 L1357.6 576.6 L1359.9 576.8 L1362.2 576.3 L1364.5 577.3 L1366.8 577.2 L1369.1 577.1 L1371.4 576.9 L1373.7 576.3 L1376 575.9 L1378.3 575.9 L1380.6 576.7 L1382.9 577.5 L1385.2 576.8 L1387.5 576.7 L1389.8 577.6 L1392.1 576.7 L1394.4 576.2 L1396.7 576 L1399 576.7 L1401.3 577.4 L1403.6 577.2 L1405.9 577.2 L1408.2 576.4 L1408.9 575.2 L1417.6 404.2 L1419 404.2 L1422.9 575.2 L1424.3 577.8 L1426.6 577.1 L1428.9 576.9 L1431.2 575.8 L1433.5 576.3 L1435.8 576.3 L1438.1 577.5 L1440.4 577.1 L1442.7 577.1 L1445 577.4 L1447.3 576.9 L1449.6 576.9 L1451.9 576.4 L1454.2 576.8 L1456.5 577.4 L1458.8 577.3 L1461.1 576.9 L1463.4 576.6 L1465.7 576 L1468 576.2 L1470.3 577.1 L1472.6 577.4 L1474.9 577.4 L1477.2 577.3 L1479.5 576.9 L1481.8 576.2 L1484.1 576.1 L1486.4 576.7 L1488.7 577 L1491 576.8 L1493.3 577.6 L1495.6 577.6 L1497.9 577.2 L1500.2 576.8 L1502.5 576.6 L1504.8 576.2 L1506.2 576.5" stroke="#55b9d4" fill="none" stroke-width="2.3" stroke-linejoin="round"/>
<path d="M1159.8 396.4H1506.2V587.5H1159.8Z" stroke="#414042" fill="none" stroke-width="1.3"/>
<line x1="1149.5" y1="450.5" x2="1159.8" y2="450.5" stroke="#414042" stroke-width="1.3"/>
<line x1="1149.5" y1="514.8" x2="1159.8" y2="514.8" stroke="#414042" stroke-width="1.3"/>
<line x1="1149.5" y1="578.1" x2="1159.8" y2="578.1" stroke="#414042" stroke-width="1.3"/>
<line x1="1160" y1="587.5" x2="1160" y2="597.8" stroke="#414042" stroke-width="1.3"/>
<line x1="1246.8" y1="587.5" x2="1246.8" y2="597.8" stroke="#414042" stroke-width="1.3"/>
<line x1="1418.3" y1="587.5" x2="1418.3" y2="597.8" stroke="#414042" stroke-width="1.3"/>
<line x1="1506.2" y1="587.5" x2="1506.2" y2="597.8" stroke="#414042" stroke-width="1.3"/>
<text x="1135.5" y="460" font-size="27.4" text-anchor="end">400</text>
<text x="1135.5" y="524.3" font-size="27.4" text-anchor="end">200</text>
<text x="1135.5" y="587.6" font-size="27.4" text-anchor="end">0</text>
<text x="1249.3" y="627.6" font-size="27.4" text-anchor="middle">5′</text>
<text x="1420.6" y="627.6" font-size="27.4" text-anchor="middle">3′</text>
<g transform="translate(1429.4 424.3) rotate(136.4)"><path d="M-24.5 0H-10.955" stroke="#f26a21" stroke-width="2.1" fill="none"/><path d="M0 0L-14.5 -8.0Q-12.33 -3.20 -11.46 0Q-12.33 3.20 -14.5 8.0Z" fill="#f26a21"/></g>
<path d="M1159.8 826.3 L1159.8 748.9 L1165 744 L1171.6 741.4 L1176.5 737.4 L1181.5 729.8 L1186.4 726.8 L1194.7 726.8 L1207.9 728.5 L1226 727.5 L1234.3 722.6 L1239.2 718.6 L1243.2 704.4 L1245.1 686.3 L1246.8 653.3 L1260.6 652.3 L1290.3 651.7 L1339.8 653.3 L1372.8 654 L1405.8 654 L1418.9 655.6 L1421.3 719.3 L1422.9 758.8 L1432.1 759.8 L1438.7 761.5 L1455.2 763.1 L1484.9 762.1 L1506.2 762.8 L1506.2 826.3Z" stroke="none" fill="#9dd3e6" stroke-width="1"/>
<path d="M1159.8 748.9 L1165 744 L1171.6 741.4 L1176.5 737.4 L1181.5 729.8 L1186.4 726.8 L1194.7 726.8 L1207.9 728.5 L1226 727.5 L1234.3 722.6 L1239.2 718.6 L1243.2 704.4 L1245.1 686.3 L1246.8 653.3 L1260.6 652.3 L1290.3 651.7 L1339.8 653.3 L1372.8 654 L1405.8 654 L1418.9 655.6 L1421.3 719.3 L1422.9 758.8 L1432.1 759.8 L1438.7 761.5 L1455.2 763.1 L1484.9 762.1 L1506.2 762.8" stroke="#55b9d4" fill="none" stroke-width="2.0" stroke-linejoin="round"/>
<path d="M1159.8 643.4H1506.2V834.7H1159.8Z" stroke="#414042" fill="none" stroke-width="1.3"/>
<line x1="1149.5" y1="670.8" x2="1159.8" y2="670.8" stroke="#414042" stroke-width="1.3"/>
<line x1="1149.5" y1="749" x2="1159.8" y2="749" stroke="#414042" stroke-width="1.3"/>
<line x1="1149.5" y1="826.1" x2="1159.8" y2="826.1" stroke="#414042" stroke-width="1.3"/>
<line x1="1160" y1="834.7" x2="1160" y2="845.0" stroke="#414042" stroke-width="1.3"/>
<line x1="1246.8" y1="834.7" x2="1246.8" y2="845.0" stroke="#414042" stroke-width="1.3"/>
<line x1="1418.3" y1="834.7" x2="1418.3" y2="845.0" stroke="#414042" stroke-width="1.3"/>
<line x1="1506.2" y1="834.7" x2="1506.2" y2="845.0" stroke="#414042" stroke-width="1.3"/>
<text x="1135.5" y="680.3" font-size="27.4" text-anchor="end">800</text>
<text x="1135.5" y="758.5" font-size="27.4" text-anchor="end">400</text>
<text x="1135.5" y="835.6" font-size="27.4" text-anchor="end">0</text>
<text x="1249.3" y="872.6" font-size="27.4" text-anchor="middle">5′</text>
<text x="1420.6" y="872.6" font-size="27.4" text-anchor="middle">3′</text>
<text transform="translate(1.0 767.5) scale(0.885 1)" font-size="33" font-weight="bold">f</text>
<text x="23.9" y="925.7" font-size="27.4" text-anchor="middle" transform="rotate(-90 23.9 925.7)">Coverage</text>
<rect x="339" y="747.4" width="275" height="20.6" fill="#cdc66e"/>
<text x="112.7 125.7 138.7 151.7 164.8 177.8 190.8 203.8 216.8 229.8 242.9 255.9 268.9 281.9 294.9 307.9 321 334" y="761.8" font-size="8.6" font-weight="bold" text-anchor="middle" style="fill:#231f20">ATGCTTGAAGCTATGTGT</text>
<text x="347 360 373 386 399.1 412.1 425.1 438.1 451.1 464.1 477.1 490.2 503.2 516.2 529.2 542.2 555.2 568.3 581.3 594.3 607.3" y="761.8" font-size="8.6" font-weight="bold" text-anchor="middle" style="fill:#ed1c24">GCTTACTCTCTCTCTGTCACC</text>
<text x="620.3 633.3 646.4 659.4 672.4 685.4 698.4 711.4 724.5 737.5 750.5 763.5 776.5 789.5 802.5 815.6 828.6" y="761.8" font-size="8.6" font-weight="bold" text-anchor="middle" style="fill:#231f20">CCTTCTCTCTCTCTCTC</text>
<text x="84.3" y="789.9" font-size="27.4" text-anchor="end">47</text>
<text x="84.3" y="859.4" font-size="27.4" text-anchor="end">77</text>
<path d="M95.2 773.4H102.4V837.8H95.2" stroke="#231f20" fill="none" stroke-width="1.1"/>
<path d="M95.2 842.5H102.4V907.3H95.2" stroke="#231f20" fill="none" stroke-width="1.1"/>
<path d="M144.7 837.9H158.4M182.6 837.9H210.3M222.6 837.9H236.3M262 837.9H275.6M430 837.9H443.7M456.3 837.9H470.5M691 837.9H705.3M730.2 837.9H743.9M756.1 837.9H769.5M808 837.9H830.9" stroke="#ed1c24" fill="none" stroke-width="1.5"/>
<rect x="820.9" y="836.4" width="10" height="2.2" fill="#ed1c24"/>
<rect x="599.2" y="772.2" width="14.8" height="66.8" fill="#ed1c24"/>
<path d="M104.6 907.4V897.5H158.4V898.3H196.9V899.2H209.7V898.3H285.3V897.5H300.2V894.9H313.9V892.6H326.7V883.2H339V846.1H365.2V845.3H379.5V844.4H444.3V845.6H469.9V846.4H495.6V845H572.7V843.3H598.3V841.8H614V876.1H639.7V875.2H703.9V876.1H743.9V876.9H769.5V877.8H820.9V878.7H830.4V907.4Z" stroke="none" fill="#9e9e9e" stroke-width="1"/>
<text x="426" y="944" font-size="27.8" text-anchor="middle" style="fill:#2b2e83">Chromosome 5 (MIR156E) - LTB</text>
<rect x="337.3" y="977.7" width="274.5" height="20.8" fill="#cdc66e"/>
<text x="108.3 121.4 134.5 147.6 160.7 173.8 186.9 200 213.1 226.2 239.3 252.4 265.5 278.6 291.7 304.8 317.9 331" y="990.8" font-size="8.6" font-weight="bold" text-anchor="middle" style="fill:#231f20">TTAATGGCTTCACTCTTC</text>
<text x="344.1 357.2 370.3 383.4 396.5 409.6 422.7 435.8 448.9 462 475.1 488.2 501.3 514.4 527.5 540.6 553.7 566.8 579.9 593 606.1" y="990.8" font-size="8.6" font-weight="bold" text-anchor="middle" style="fill:#ed1c24">TTTGGATTGAAGGGAGCTCTT</text>
<text x="619.2 632.3 645.4 658.5 671.6 684.7 697.8 710.9 724 737.1 750.2 763.3 776.4 789.5 802.6 815.7 828.8" y="990.8" font-size="8.6" font-weight="bold" text-anchor="middle" style="fill:#231f20">CATCTCTCCATCCCTAT</text>
<text x="84.3" y="1017.1" font-size="27.4" text-anchor="end">608</text>
<text x="84.3" y="1086.4" font-size="27.4" text-anchor="end">712</text>
<path d="M95.2 1002.1H102.4V1067H95.2" stroke="#231f20" fill="none" stroke-width="1.1"/>
<path d="M95.2 1071.3H102.4V1136.9H95.2" stroke="#231f20" fill="none" stroke-width="1.1"/>
<path d="M128.4 1067.6H141.8M154.1 1067.6H219.7M246 1067.6H259.6M271.6 1067.6H285.3M297.6 1067.6H311.9M337.3 1067.6H363.8M402.9 1067.6H432M455.7 1067.6H469.1M495 1067.6H508.5M560.4 1067.6H573.5M586 1067.6H626M703.9 1067.6H717.3M729.6 1067.6H783" stroke="#ed1c24" fill="none" stroke-width="1.1"/>
<rect x="599.2" y="1001.9" width="13.4" height="66" fill="#ed1c24"/>
<path d="M103.6 1136.9V1132.1H128.4V1131.2H154.1V1130.3H171.2V1129.8H285.3V1126.9H298.2V1124.9H311V1122.1H324.4V1112.7H337.3V1071.8H612.6V1127.5H660V1127.2H700V1126.7H740V1126.3H780V1125.9H815V1125.5H828.9V1136.9Z" stroke="none" fill="#989898" stroke-width="1"/>
<text x="426.2" y="1174" font-size="27.8" text-anchor="middle" style="fill:#2b2e83">Chromosome 1 (MIR159B) - LTBs</text>
<text x="884.8" y="895.9" font-size="33.5" font-weight="bold" style="font-family:Liberation Serif,serif">g</text>
<g fill="none" stroke-linejoin="miter" stroke-miterlimit="10">
<path d="M937.6 1006.6V994.1L932.3 984.6L937.6 975.2V959.7A21.5 21.6 0 1 1 947.5 959.7V975.2L953.3 984.6L947.5 994.1V1017" stroke="#231f20" fill="none" stroke-width="5.7"/>
<path d="M937.6 1059.8V1068.9L932.6 1076.7L937.6 1085.5V1171.2" stroke="#231f20" fill="none" stroke-width="5.7"/>
<path d="M947.5 1069V1171.2" stroke="#231f20" fill="none" stroke-width="5.7"/>
<path d="M937.6 1006.1V1020.4L932.3 1028.5L937.6 1036.4V1060.3" stroke="#4db848" fill="none" stroke-width="5.7"/>
<path d="M946.5 1016.6L953.3 1028.5L947.5 1037.8V1069.8" stroke="#ed1c2e" fill="none" stroke-width="6.3"/>
</g>
<rect x="909.5" y="1165.3" width="30.9" height="5.9" fill="url(#fadeL)"/>
<rect x="944.7" y="1165.3" width="34" height="5.9" fill="url(#fadeR)"/>
<path d="M925.6 1115.4V964A30.45 30.45 0 1 1 959 964V1117.4" stroke="#f26a21" fill="none" stroke-width="1.8"/>
<path d="M925.6 1116.7V1160.6H904.1" stroke="#5fc8d7" fill="none" stroke-width="2.0"/>
<path d="M941.9 1070.6H963.6" stroke="#808285" fill="none" stroke-width="2.6" stroke-dasharray="6.5 2.2"/>
<path d="M942.9 1071.5V1114.5" stroke="#808285" fill="none" stroke-width="3.4"/>
<path d="M942.9 1077V1112" stroke="#e6e7e8" fill="none" stroke-width="1.6" stroke-dasharray="1.3 4.6"/>
<path d="M922.1 1114.5H944" stroke="#808285" fill="none" stroke-width="2.6" stroke-dasharray="6.5 2.2"/>
<g transform="translate(918.7 1115) rotate(0)"><path d="M-23.5 0H-10.955" stroke="#5fc8d7" stroke-width="2.1" fill="none"/><path d="M0 0L-14.5 -8.0Q-12.33 -3.20 -11.46 0Q-12.33 3.20 -14.5 8.0Z" fill="#5fc8d7"/></g>
<g transform="translate(967.7 1118.8) rotate(180)"><path d="M-24.5 0H-10.955" stroke="#f26a21" stroke-width="2.1" fill="none"/><path d="M0 0L-14.5 -8.0Q-12.33 -3.20 -11.46 0Q-12.33 3.20 -14.5 8.0Z" fill="#f26a21"/></g>
<path d="M902.4 1042.2V944.825" stroke="#808285" fill="none" stroke-width="4.5" stroke-dasharray="10.4 7.5" stroke-dashoffset="0.0"/>
<path d="M902.4 933L890.4 954.5L902.4 948.48L914.4 954.5Z" fill="#6d6e71"/>
<text x="1017.1" y="1048.2" font-size="27.4" text-anchor="middle" transform="rotate(-90 1017.1 1048.2)">Mean plaNET-seq signal</text>
<text x="1288.4" y="922.8" font-size="27.4" text-anchor="middle">BTLs pri-miRNA processing</text>
<path d="M1087.4 1148.5 L1087.4 1147.7 L1088.6 1146.8 L1089.8 1146.2 L1091.1 1145.1 L1091.7 1142.7 L1092.3 1144.7 L1093.5 1147.5 L1094.7 1146.9 L1095.9 1147.8 L1097.1 1147.5 L1098.4 1145.6 L1099.6 1146.8 L1100.8 1143.9 L1102 1147.1 L1103.2 1147.7 L1104.4 1143.2 L1105.7 1148 L1106.9 1144.5 L1108.1 1147.9 L1109.3 1146.6 L1110.5 1145.3 L1111.7 1144.6 L1113 1146.5 L1114.2 1147.5 L1115.4 1146.3 L1116.6 1145.4 L1117.8 1145.6 L1119 1147.4 L1120.3 1147 L1121.5 1147.1 L1122.7 1148 L1123.9 1147.4 L1125.1 1146.6 L1126.3 1148 L1127.6 1147.7 L1128.8 1145.3 L1130 1147.1 L1131.2 1147.3 L1132.4 1146.8 L1133.6 1146.8 L1134.9 1146.8 L1136.1 1147 L1137.3 1147.3 L1138.5 1146.7 L1139.7 1146.6 L1140.9 1145.2 L1142.2 1145.7 L1143.4 1147.7 L1144.6 1147.1 L1145.8 1147 L1147 1146.1 L1148.2 1147 L1149.5 1146.4 L1150.7 1146.9 L1151.9 1146.3 L1153.1 1147 L1154.3 1146.4 L1155.6 1147.4 L1156.8 1146.6 L1158 1144.6 L1159.2 1144.7 L1160.4 1143.1 L1160.8 1142.2 L1161.6 1145.8 L1162.9 1147.2 L1164.1 1146.4 L1165.3 1146.3 L1166.5 1146.6 L1167.7 1147.3 L1168.9 1146.6 L1170.2 1147 L1171.4 1146.5 L1172.6 1146.8 L1173.8 1148 L1175 1145.5 L1176.2 1148 L1177.5 1146.7 L1178.7 1145.6 L1179.9 1146.5 L1181.1 1145.3 L1182.3 1144.4 L1183 1142.9 L1183.5 1136.7 L1184 1130.9 L1184.8 1129.9 L1185.5 1128.8 L1186 1125 L1187 1117.8 L1187.2 1073.7 L1187.8 945.4 L1188.3 945.4 L1188.4 959.3 L1189.1 1123.8 L1189.6 1133.7 L1190 1140.6 L1190.8 1144.2 L1192.1 1144.8 L1193.3 1144.9 L1194.5 1144.7 L1195.7 1144.9 L1196.9 1143.7 L1198.1 1144.6 L1199.4 1144.6 L1200.6 1142.9 L1201.8 1143.2 L1203 1137.6 L1204.2 1141.6 L1205.4 1143.6 L1206.7 1144.3 L1207.9 1144.5 L1209.1 1132.7 L1209.2 1132 L1210.3 1141.1 L1211.5 1142.3 L1212.7 1144.7 L1214 1142.9 L1215.2 1145.1 L1216.4 1142.9 L1217.6 1144.1 L1218.8 1144.2 L1220 1145.1 L1221.3 1142.6 L1222.5 1145.4 L1223.7 1142.7 L1224.9 1133.1 L1225.1 1132.1 L1226.1 1143.3 L1227.4 1142 L1228 1138.3 L1228.6 1141.3 L1229.8 1143.9 L1231 1142.9 L1232.2 1137.8 L1233.4 1142.4 L1234.7 1144 L1235.9 1142.8 L1237.1 1144.5 L1238.3 1141.7 L1239.5 1142.6 L1240.7 1145.6 L1242 1147.8 L1243.2 1147.4 L1244.4 1147.6 L1245.6 1145.4 L1246.8 1146.8 L1248 1147.5 L1249.3 1146.9 L1250.5 1147.1 L1251.7 1146 L1252.9 1145.5 L1254.1 1147.1 L1255.3 1147.8 L1256.6 1147.9 L1257.8 1146.8 L1259 1146.7 L1260.2 1147.2 L1261.4 1147.3 L1262.6 1148 L1263.9 1147.8 L1265.1 1147.5 L1266.3 1146.5 L1267.5 1145.3 L1268.7 1147.2 L1269.9 1147.5 L1271.2 1147.6 L1272.4 1146.8 L1273.6 1145.6 L1274.8 1146.9 L1276 1147.5 L1277.2 1143.7 L1278.5 1146.4 L1279.7 1144.2 L1280.9 1145.4 L1282.1 1148 L1283.3 1146.6 L1284.5 1144.4 L1285.8 1143.5 L1287 1147.3 L1288.2 1147.7 L1289.4 1146.8 L1290.6 1146.8 L1291.9 1145.2 L1293.1 1147.7 L1294.3 1147 L1295.5 1130.3 L1295.6 1130.3 L1296.7 1145.4 L1297.9 1145 L1299.2 1147.2 L1300.4 1145.7 L1301.6 1148 L1302.8 1146.4 L1304 1147.1 L1305.2 1146.5 L1306.5 1147.1 L1307.7 1145 L1308.9 1147 L1310.1 1147.2 L1311.3 1147.4 L1312.5 1146 L1313.8 1147.8 L1315 1147.7 L1316.2 1146.2 L1317.4 1147.5 L1318.6 1147.7 L1319.8 1148 L1321.1 1147.1 L1322.3 1147.9 L1323.5 1147.1 L1324.7 1147.2 L1325.9 1146.9 L1327.1 1145.5 L1328.4 1147.5 L1329.6 1145.4 L1330.8 1145 L1332 1144.2 L1333.2 1147.1 L1334.4 1147.2 L1335.7 1144.9 L1336.9 1147.8 L1338.1 1147.2 L1339.3 1146.9 L1340.5 1147.5 L1341.7 1147.3 L1343 1146.5 L1344.2 1147.4 L1345.4 1147.2 L1346.6 1147.8 L1347.8 1147 L1349 1147.9 L1350.3 1147.8 L1351.5 1147.9 L1352.7 1146.4 L1353.9 1147.3 L1355.1 1147.9 L1356.4 1147.8 L1357.6 1146.8 L1358.8 1143.7 L1360 1140.7 L1361.2 1143.6 L1362.4 1145.6 L1363.7 1145.6 L1364.9 1147.8 L1366.1 1146 L1367.3 1147.9 L1368.5 1146.5 L1369.7 1147.9 L1371 1144.8 L1372.2 1147.9 L1373.4 1147.3 L1374.6 1146.1 L1375.8 1147.8 L1377 1142.8 L1378.2 1135.6 L1378.3 1135.7 L1379.5 1147.8 L1380.7 1147.8 L1381.9 1147.9 L1383.1 1147.9 L1384.3 1146.5 L1385.6 1147.7 L1386.8 1146.5 L1388 1147.5 L1389.2 1147.5 L1390.4 1146.2 L1391.6 1148 L1392.9 1147.3 L1394.1 1146.2 L1395.3 1147.4 L1396.5 1146.6 L1397.7 1146.6 L1398.9 1146.2 L1400.2 1147.3 L1401.4 1147.5 L1402.6 1147.2 L1403.8 1142.2 L1404 1141.8 L1405 1145.9 L1406.2 1148 L1407.5 1144.8 L1408.7 1148 L1409.9 1147.5 L1409.9 1143.6 L1411.1 1120.2 L1411.2 1118.8 L1412 1118.8 L1412.3 1124.9 L1413.3 1143.2 L1413.5 1142.6 L1414.8 1147.7 L1416 1148 L1417.2 1146.6 L1418.4 1145.9 L1419.6 1145.1 L1420.8 1147.9 L1422.1 1147.8 L1423.3 1147.9 L1424.5 1146.5 L1425.7 1147.7 L1426.9 1147.8 L1428.2 1147.4 L1429.4 1147.2 L1430.6 1147.1 L1431.8 1146.7 L1433 1144.3 L1434.2 1147.9 L1435.5 1146.2 L1436.7 1146.9 L1437.9 1145.3 L1439.1 1147.9 L1440.3 1143.5 L1441.5 1147 L1442.8 1147.7 L1444 1147.7 L1445.2 1147.8 L1446.4 1145.3 L1447.6 1142.2 L1448 1141 L1448.8 1145.3 L1450.1 1147.6 L1451.3 1145.9 L1452.5 1146 L1453.7 1147.2 L1454.9 1148 L1456.1 1144.1 L1457.4 1144.9 L1458.6 1146.9 L1459.8 1146.9 L1461 1146.5 L1462.2 1147.1 L1463.4 1147.7 L1464.7 1146.7 L1465.9 1147.5 L1466.6 1143.5 L1467.1 1115 L1467.7 1080.5 L1468.3 1080.5 L1468.5 1080.5 L1469.5 1139.5 L1469.6 1143.5 L1470.7 1147.1 L1472 1147.5 L1473.2 1143.9 L1474.4 1148 L1475.6 1145.1 L1476.8 1147.5 L1478 1147.4 L1479.3 1146.6 L1480.5 1146.1 L1481.7 1147 L1482.9 1147.1 L1484 1141.1 L1484.1 1141.3 L1485.3 1147.6 L1486.6 1145.3 L1487.8 1146.8 L1489 1147.7 L1489 1148.5Z" stroke="none" fill="#f1957b" stroke-width="1"/>
<path d="M1087.4 1147.7 L1088.6 1146.8 L1089.8 1146.2 L1091.1 1145.1 L1091.7 1142.7 L1092.3 1144.7 L1093.5 1147.5 L1094.7 1146.9 L1095.9 1147.8 L1097.1 1147.5 L1098.4 1145.6 L1099.6 1146.8 L1100.8 1143.9 L1102 1147.1 L1103.2 1147.7 L1104.4 1143.2 L1105.7 1148 L1106.9 1144.5 L1108.1 1147.9 L1109.3 1146.6 L1110.5 1145.3 L1111.7 1144.6 L1113 1146.5 L1114.2 1147.5 L1115.4 1146.3 L1116.6 1145.4 L1117.8 1145.6 L1119 1147.4 L1120.3 1147 L1121.5 1147.1 L1122.7 1148 L1123.9 1147.4 L1125.1 1146.6 L1126.3 1148 L1127.6 1147.7 L1128.8 1145.3 L1130 1147.1 L1131.2 1147.3 L1132.4 1146.8 L1133.6 1146.8 L1134.9 1146.8 L1136.1 1147 L1137.3 1147.3 L1138.5 1146.7 L1139.7 1146.6 L1140.9 1145.2 L1142.2 1145.7 L1143.4 1147.7 L1144.6 1147.1 L1145.8 1147 L1147 1146.1 L1148.2 1147 L1149.5 1146.4 L1150.7 1146.9 L1151.9 1146.3 L1153.1 1147 L1154.3 1146.4 L1155.6 1147.4 L1156.8 1146.6 L1158 1144.6 L1159.2 1144.7 L1160.4 1143.1 L1160.8 1142.2 L1161.6 1145.8 L1162.9 1147.2 L1164.1 1146.4 L1165.3 1146.3 L1166.5 1146.6 L1167.7 1147.3 L1168.9 1146.6 L1170.2 1147 L1171.4 1146.5 L1172.6 1146.8 L1173.8 1148 L1175 1145.5 L1176.2 1148 L1177.5 1146.7 L1178.7 1145.6 L1179.9 1146.5 L1181.1 1145.3 L1182.3 1144.4 L1183 1142.9 L1183.5 1136.7 L1184 1130.9 L1184.8 1129.9 L1185.5 1128.8 L1186 1125 L1187 1117.8 L1187.2 1073.7 L1187.8 945.4 L1188.3 945.4 L1188.4 959.3 L1189.1 1123.8 L1189.6 1133.7 L1190 1140.6 L1190.8 1144.2 L1192.1 1144.8 L1193.3 1144.9 L1194.5 1144.7 L1195.7 1144.9 L1196.9 1143.7 L1198.1 1144.6 L1199.4 1144.6 L1200.6 1142.9 L1201.8 1143.2 L1203 1137.6 L1204.2 1141.6 L1205.4 1143.6 L1206.7 1144.3 L1207.9 1144.5 L1209.1 1132.7 L1209.2 1132 L1210.3 1141.1 L1211.5 1142.3 L1212.7 1144.7 L1214 1142.9 L1215.2 1145.1 L1216.4 1142.9 L1217.6 1144.1 L1218.8 1144.2 L1220 1145.1 L1221.3 1142.6 L1222.5 1145.4 L1223.7 1142.7 L1224.9 1133.1 L1225.1 1132.1 L1226.1 1143.3 L1227.4 1142 L1228 1138.3 L1228.6 1141.3 L1229.8 1143.9 L1231 1142.9 L1232.2 1137.8 L1233.4 1142.4 L1234.7 1144 L1235.9 1142.8 L1237.1 1144.5 L1238.3 1141.7 L1239.5 1142.6 L1240.7 1145.6 L1242 1147.8 L1243.2 1147.4 L1244.4 1147.6 L1245.6 1145.4 L1246.8 1146.8 L1248 1147.5 L1249.3 1146.9 L1250.5 1147.1 L1251.7 1146 L1252.9 1145.5 L1254.1 1147.1 L1255.3 1147.8 L1256.6 1147.9 L1257.8 1146.8 L1259 1146.7 L1260.2 1147.2 L1261.4 1147.3 L1262.6 1148 L1263.9 1147.8 L1265.1 1147.5 L1266.3 1146.5 L1267.5 1145.3 L1268.7 1147.2 L1269.9 1147.5 L1271.2 1147.6 L1272.4 1146.8 L1273.6 1145.6 L1274.8 1146.9 L1276 1147.5 L1277.2 1143.7 L1278.5 1146.4 L1279.7 1144.2 L1280.9 1145.4 L1282.1 1148 L1283.3 1146.6 L1284.5 1144.4 L1285.8 1143.5 L1287 1147.3 L1288.2 1147.7 L1289.4 1146.8 L1290.6 1146.8 L1291.9 1145.2 L1293.1 1147.7 L1294.3 1147 L1295.5 1130.3 L1295.6 1130.3 L1296.7 1145.4 L1297.9 1145 L1299.2 1147.2 L1300.4 1145.7 L1301.6 1148 L1302.8 1146.4 L1304 1147.1 L1305.2 1146.5 L1306.5 1147.1 L1307.7 1145 L1308.9 1147 L1310.1 1147.2 L1311.3 1147.4 L1312.5 1146 L1313.8 1147.8 L1315 1147.7 L1316.2 1146.2 L1317.4 1147.5 L1318.6 1147.7 L1319.8 1148 L1321.1 1147.1 L1322.3 1147.9 L1323.5 1147.1 L1324.7 1147.2 L1325.9 1146.9 L1327.1 1145.5 L1328.4 1147.5 L1329.6 1145.4 L1330.8 1145 L1332 1144.2 L1333.2 1147.1 L1334.4 1147.2 L1335.7 1144.9 L1336.9 1147.8 L1338.1 1147.2 L1339.3 1146.9 L1340.5 1147.5 L1341.7 1147.3 L1343 1146.5 L1344.2 1147.4 L1345.4 1147.2 L1346.6 1147.8 L1347.8 1147 L1349 1147.9 L1350.3 1147.8 L1351.5 1147.9 L1352.7 1146.4 L1353.9 1147.3 L1355.1 1147.9 L1356.4 1147.8 L1357.6 1146.8 L1358.8 1143.7 L1360 1140.7 L1361.2 1143.6 L1362.4 1145.6 L1363.7 1145.6 L1364.9 1147.8 L1366.1 1146 L1367.3 1147.9 L1368.5 1146.5 L1369.7 1147.9 L1371 1144.8 L1372.2 1147.9 L1373.4 1147.3 L1374.6 1146.1 L1375.8 1147.8 L1377 1142.8 L1378.2 1135.6 L1378.3 1135.7 L1379.5 1147.8 L1380.7 1147.8 L1381.9 1147.9 L1383.1 1147.9 L1384.3 1146.5 L1385.6 1147.7 L1386.8 1146.5 L1388 1147.5 L1389.2 1147.5 L1390.4 1146.2 L1391.6 1148 L1392.9 1147.3 L1394.1 1146.2 L1395.3 1147.4 L1396.5 1146.6 L1397.7 1146.6 L1398.9 1146.2 L1400.2 1147.3 L1401.4 1147.5 L1402.6 1147.2 L1403.8 1142.2 L1404 1141.8 L1405 1145.9 L1406.2 1148 L1407.5 1144.8 L1408.7 1148 L1409.9 1147.5 L1409.9 1143.6 L1411.1 1120.2 L1411.2 1118.8 L1412 1118.8 L1412.3 1124.9 L1413.3 1143.2 L1413.5 1142.6 L1414.8 1147.7 L1416 1148 L1417.2 1146.6 L1418.4 1145.9 L1419.6 1145.1 L1420.8 1147.9 L1422.1 1147.8 L1423.3 1147.9 L1424.5 1146.5 L1425.7 1147.7 L1426.9 1147.8 L1428.2 1147.4 L1429.4 1147.2 L1430.6 1147.1 L1431.8 1146.7 L1433 1144.3 L1434.2 1147.9 L1435.5 1146.2 L1436.7 1146.9 L1437.9 1145.3 L1439.1 1147.9 L1440.3 1143.5 L1441.5 1147 L1442.8 1147.7 L1444 1147.7 L1445.2 1147.8 L1446.4 1145.3 L1447.6 1142.2 L1448 1141 L1448.8 1145.3 L1450.1 1147.6 L1451.3 1145.9 L1452.5 1146 L1453.7 1147.2 L1454.9 1148 L1456.1 1144.1 L1457.4 1144.9 L1458.6 1146.9 L1459.8 1146.9 L1461 1146.5 L1462.2 1147.1 L1463.4 1147.7 L1464.7 1146.7 L1465.9 1147.5 L1466.6 1143.5 L1467.1 1115 L1467.7 1080.5 L1468.3 1080.5 L1468.5 1080.5 L1469.5 1139.5 L1469.6 1143.5 L1470.7 1147.1 L1472 1147.5 L1473.2 1143.9 L1474.4 1148 L1475.6 1145.1 L1476.8 1147.5 L1478 1147.4 L1479.3 1146.6 L1480.5 1146.1 L1481.7 1147 L1482.9 1147.1 L1484 1141.1 L1484.1 1141.3 L1485.3 1147.6 L1486.6 1145.3 L1487.8 1146.8 L1489 1147.7" stroke="#e8392b" fill="none" stroke-width="2.5" stroke-linejoin="round"/>
<path d="M1087.4 936.8H1489V1158.4H1087.4Z" stroke="#414042" fill="none" stroke-width="1.3"/>
<line x1="1076.2" y1="967" x2="1087.4" y2="967" stroke="#414042" stroke-width="1.3"/>
<line x1="1076.2" y1="1148.5" x2="1087.4" y2="1148.5" stroke="#414042" stroke-width="1.3"/>
<line x1="1087.4" y1="1158.4" x2="1087.4" y2="1169.6000000000001" stroke="#414042" stroke-width="1.3"/>
<line x1="1187.4" y1="1158.4" x2="1187.4" y2="1169.6000000000001" stroke="#414042" stroke-width="1.3"/>
<line x1="1389" y1="1158.4" x2="1389" y2="1169.6000000000001" stroke="#414042" stroke-width="1.3"/>
<line x1="1489" y1="1158.4" x2="1489" y2="1169.6000000000001" stroke="#414042" stroke-width="1.3"/>
<text x="1069.5" y="976.5" font-size="27.4" text-anchor="end">30</text>
<text x="1069.5" y="1158" font-size="27.4" text-anchor="end">0</text>
<text x="1086" y="1194" font-size="27.4" text-anchor="middle">–0.1</text>
<text x="1188.8" y="1194" font-size="27.4" text-anchor="middle">5′</text>
<text x="1390.5" y="1194" font-size="27.4" text-anchor="middle">3′</text>
<text x="1469.6" y="1194" font-size="27.4" text-anchor="middle">0.1 kb</text>
<g transform="translate(1199.9 961.5) rotate(136.8)"><path d="M-24.5 0H-10.955" stroke="#5fc8d7" stroke-width="2.1" fill="none"/><path d="M0 0L-14.5 -8.0Q-12.33 -3.20 -11.46 0Q-12.33 3.20 -14.5 8.0Z" fill="#5fc8d7"/></g>
<g transform="translate(1412.8 1108.5) rotate(90)"><path d="M-24.5 0H-10.955" stroke="#f26a21" stroke-width="2.1" fill="none"/><path d="M0 0L-14.5 -8.0Q-12.33 -3.20 -11.46 0Q-12.33 3.20 -14.5 8.0Z" fill="#f26a21"/></g>
<g transform="translate(1468.1 1074.3) rotate(90)"><path d="M-24.5 0H-10.955" stroke="#231f20" stroke-width="2.1" fill="none"/><path d="M0 0L-14.5 -8.0Q-12.33 -3.20 -11.46 0Q-12.33 3.20 -14.5 8.0Z" fill="#231f20"/></g>
<text transform="translate(0 1249.3) scale(0.885 1)" font-size="33" font-weight="bold">h</text>
<text x="19.5" y="1400.3" font-size="27.4" text-anchor="middle" transform="rotate(-90 19.5 1400.3)">Ratio of hairpin region</text>
<text x="52.6" y="1400" font-size="27.4" text-anchor="middle" transform="rotate(-90 52.6 1400)">in nucleoplasm/IP</text>
<line x1="124.9" y1="1298.7" x2="136.6" y2="1298.7" stroke="#231f20" stroke-width="1.3"/>
<line x1="124.9" y1="1423.5" x2="136.6" y2="1423.5" stroke="#231f20" stroke-width="1.3"/>
<text x="115.5" y="1308.2" font-size="27.4" text-anchor="end">800</text>
<text x="115.5" y="1433" font-size="27.4" text-anchor="end">400</text>
<text x="115.5" y="1558.2" font-size="27.4" text-anchor="end">0</text>
<path d="M150.2 1548.7V1327.4H170.1V1548.7" fill="#fff" stroke="#231f20" stroke-width="3.9"/>
<path d="M185.8 1548.7V1477.2H205.2V1548.7" fill="#fff" stroke="#231f20" stroke-width="3.9"/>
<path d="M221 1548.7V1400.9H241V1548.7" fill="#fff" stroke="#231f20" stroke-width="3.9"/>
<path d="M256.6 1548.7V1541H276.4V1548.7" fill="#fff" stroke="#231f20" stroke-width="3.9"/>
<path d="M328.2 1548.7V1543.5H347.8V1548.7" fill="#fff" stroke="#231f20" stroke-width="3.9"/>
<line x1="136.6" y1="1236.7" x2="136.6" y2="1548.7" stroke="#231f20" stroke-width="1.3"/>
<line x1="124.9" y1="1548.7" x2="362.4" y2="1548.7" stroke="#231f20" stroke-width="1.3"/>
<path d="M160.4 1291.3V1358.6M154.25 1291.3H166.55M154.25 1358.6H166.55" stroke="#231f20" fill="none" stroke-width="1.3"/>
<path d="M196 1469V1479.5M189.85 1469H202.15M189.85 1479.5H202.15" stroke="#231f20" fill="none" stroke-width="1.3"/>
<path d="M231.3 1356V1440.5M225.15 1356H237.45000000000002M225.15 1440.5H237.45000000000002" stroke="#231f20" fill="none" stroke-width="1.3"/>
<ellipse cx="160.4" cy="1286.4" rx="4.9" ry="6.3" fill="#231f20"/>
<ellipse cx="160.4" cy="1337.5" rx="4.9" ry="6.3" fill="#231f20"/>
<ellipse cx="160.4" cy="1350.8" rx="4.9" ry="6.3" fill="#231f20"/>
<ellipse cx="188.6" cy="1480.9" rx="4.9" ry="6.3" fill="#231f20"/>
<ellipse cx="195.7" cy="1468.8" rx="4.9" ry="6.3" fill="#231f20"/>
<ellipse cx="202.9" cy="1474.6" rx="4.9" ry="6.3" fill="#231f20"/>
<ellipse cx="231.3" cy="1349.8" rx="4.9" ry="6.3" fill="#231f20"/>
<ellipse cx="224.3" cy="1426.8" rx="4.9" ry="6.3" fill="#231f20"/>
<ellipse cx="238.6" cy="1418.4" rx="4.9" ry="6.3" fill="#231f20"/>
<ellipse cx="260" cy="1538.6" rx="4.9" ry="6.3" fill="#231f20"/>
<ellipse cx="266.6" cy="1538" rx="4.9" ry="6.3" fill="#231f20"/>
<ellipse cx="273.5" cy="1538.6" rx="4.9" ry="6.3" fill="#231f20"/>
<ellipse cx="296.5" cy="1548.7" rx="4.9" ry="6.3" fill="#231f20"/>
<ellipse cx="302.9" cy="1548.7" rx="4.9" ry="6.3" fill="#231f20"/>
<ellipse cx="308.8" cy="1548.7" rx="4.9" ry="6.3" fill="#231f20"/>
<ellipse cx="331.2" cy="1542.9" rx="4.9" ry="6.3" fill="#231f20"/>
<ellipse cx="338" cy="1540.5" rx="4.9" ry="6.3" fill="#231f20"/>
<ellipse cx="344.7" cy="1541.9" rx="4.9" ry="6.3" fill="#231f20"/>
<text x="199" y="1458" font-size="24" transform="rotate(-90 199 1458)"><tspan font-style="italic">P</tspan> = 0.015</text>
<text x="236.6" y="1333.2" font-size="24" transform="rotate(-90 236.6 1333.2)"><tspan font-style="italic">P</tspan> = 0.083</text>
<text x="252.2" y="1513.2" font-size="24"><tspan font-style="italic">P</tspan> &lt; 0.008</text>
<path d="M254.6 1525.5V1522.4H353.4V1525.5" stroke="#231f20" fill="none" stroke-width="2"/>
<text x="168.4" y="1560.5" font-size="27" text-anchor="end" transform="rotate(-90 168.4 1560.5)">pri-miR165a</text>
<text x="204.3" y="1560.5" font-size="27" text-anchor="end" transform="rotate(-90 204.3 1560.5)">pri-miR166b</text>
<text x="240.8" y="1560.5" font-size="27" text-anchor="end" transform="rotate(-90 240.8 1560.5)">pri-miR402</text>
<text x="275.9" y="1560.5" font-size="27" text-anchor="end" transform="rotate(-90 275.9 1560.5)">pri-miR156a</text>
<text x="312.1" y="1560.5" font-size="27" text-anchor="end" transform="rotate(-90 312.1 1560.5)">pri-miR159a</text>
<text x="347.6" y="1560.5" font-size="27" text-anchor="end" transform="rotate(-90 347.6 1560.5)">pri-miR408</text>
<line x1="149" y1="1713" x2="242.8" y2="1713" stroke="#231f20" stroke-width="2.3"/>
<line x1="254.7" y1="1713" x2="348.1" y2="1713" stroke="#231f20" stroke-width="2.3"/>
<text x="197.6" y="1745.4" font-size="27.4" text-anchor="middle">BTL</text>
<text x="307.3" y="1745.4" font-size="27.4" text-anchor="middle">LTB</text>
<text transform="translate(373.2 1249.3) scale(0.885 1)" font-size="33" font-weight="bold">i</text>
<g id="panel-i">
<rect x="387.3" y="1258.6" width="489.2" height="216.7" rx="10.5" ry="10.5" fill="none" stroke="#231f20" stroke-width="1.8"/>
<ellipse cx="491.5" cy="1388" rx="32.6" ry="27.6" fill="#e4e873"/>
<rect x="399.5" y="1435.3" width="364.8" height="5.3" fill="#bab8ba"/>
<path d="M532.7 1413.9H563.2V1437.7H532.7V1420.4L522.7 1418.5H515.2Q513.7 1418.3 513.7 1416.7Q513.7 1415.1 515.2 1415L532.7 1414.5Z" fill="#1ba89b"/>
<path d="M445.6 1400.1C445.1 1398.7 442.8 1393.6 443 1391.5C443.1 1389.3 444.6 1388 446.4 1387.2C448.3 1386.3 450.3 1385.9 454.2 1386.3C458.1 1386.7 464.8 1388.7 469.7 1389.8C474.6 1390.8 480.1 1392.2 483.5 1392.3C487 1392.5 488.1 1392.1 490.4 1390.6C492.7 1389.1 496.2 1384.4 497.3 1383.2" stroke="#231f20" fill="none" stroke-width="1.7" stroke-linecap="round"/>
<path d="M502.8 1389.4C502.2 1390.1 499.3 1391.8 498.7 1393.5C498.1 1395.3 497.8 1397.9 499 1400.1C500.3 1402.3 503.1 1405.1 505.9 1407C508.8 1408.9 512.9 1409.2 516.3 1411.3C519.8 1413.5 522.9 1416.9 526.7 1419.9C530.4 1423 536.7 1427.9 538.7 1429.4" stroke="#231f20" fill="none" stroke-width="1.7" stroke-linecap="round"/>
<g transform="translate(499.6 1385.4) rotate(-49.8)"><rect x="0" y="-4.56" width="8" height="9.12" fill="#231f20"/><path d="M1 -3.6599999999999997V3.6599999999999997M3 -3.6599999999999997V3.6599999999999997M5 -3.6599999999999997V3.6599999999999997" stroke="#e4e39a" stroke-width="0.5" fill="none"/><rect x="8" y="-5.392" width="21" height="10.784" fill="#cd5f45"/><path d="M9.2 -4.992V4.992M11.1 -4.992V4.992M13 -4.992V4.992M14.9 -4.992V4.992M16.8 -4.992V4.992M18.7 -4.992V4.992M20.6 -4.992V4.992M22.5 -4.992V4.992M24.4 -4.992V4.992M26.3 -4.992V4.992" stroke="#dc7d60" stroke-width="0.6" fill="none"/><rect x="29" y="-6.2" width="3.2" height="12.4" rx="1.6" ry="2.7" fill="none" stroke="#231f20" stroke-width="1.1"/><rect x="32.2" y="-6.2" width="3.2" height="12.4" rx="1.6" ry="2.7" fill="none" stroke="#231f20" stroke-width="1.1"/><rect x="35.5" y="-4.128" width="24.8" height="8.256" fill="none" stroke="#231f20" stroke-width="1.1"/><path d="M36.6 -4.128V4.128M38.8 -4.128V4.128M40.9 -4.128V4.128M43 -4.128V4.128M45.2 -4.128V4.128M47.4 -4.128V4.128M49.5 -4.128V4.128M51.6 -4.128V4.128M53.8 -4.128V4.128M56 -4.128V4.128M58.1 -4.128V4.128" stroke="#231f20" stroke-width="1.05" fill="none"/><ellipse cx="69.1" cy="0" rx="9.6" ry="9.6" fill="none" stroke="#231f20" stroke-width="1.6"/></g>
<g transform="translate(472.8 1367.7) rotate(19) scale(1.0)"><ellipse cx="-5.9" cy="-2.2" rx="5.8" ry="2.6" transform="rotate(8 -5.9 -2.2)" fill="#fff" stroke="#231f20" stroke-width="1.1"/><ellipse cx="-6.6" cy="3.4" rx="5.8" ry="2.6" transform="rotate(-15 -6.6 3.4)" fill="#fff" stroke="#231f20" stroke-width="1.1"/><path d="M-1.5 -2.4L26 -3.2L-1 0.4Z" fill="#231f20" stroke="#231f20" stroke-width="0.7" stroke-linejoin="round"/><path d="M-2 0.2L25 4.2L-1.5 2.8Z" fill="#231f20" stroke="#231f20" stroke-width="0.7" stroke-linejoin="round"/></g>
<text x="447.6" y="1408.4" font-size="16.3">7mG</text>
<text x="568.3" y="1420.5" font-size="16.3">7mG</text>
<ellipse cx="666.5" cy="1398.6" rx="32.6" ry="27.2" fill="#e4e873"/>
<path d="M710.4 1415.2H740.9V1438.6H710.4V1421.7L700.4 1419.8H693.2Q691.7 1419.6 691.7 1418Q691.7 1416.4 693.2 1416.3L710.4 1415.8Z" fill="#1ba89b"/>
<path d="M584.4 1423.1C586.4 1423.6 591.7 1427.5 596.1 1426.3C600.5 1425 604.9 1416.5 611 1415.6C617 1414.8 626.5 1421.2 632.2 1420.9C637.9 1420.7 640.3 1414.8 644.9 1413.9C649.5 1413.1 657.3 1415.4 659.8 1415.6" stroke="#231f20" fill="none" stroke-width="1.7" stroke-linecap="round"/>
<path d="M681 1412.5C681.8 1413.2 682.8 1416.5 685.3 1416.7C687.8 1416.9 692.4 1413 695.9 1413.5C699.4 1414 702.6 1417.8 706.5 1419.9C710.4 1421.9 717.1 1424.8 719.3 1425.8" stroke="#231f20" fill="none" stroke-width="1.7" stroke-linecap="round"/>
<g transform="translate(664.5 1393.3) rotate(-50.4)"><rect x="0" y="-5.392" width="20.5" height="10.784" fill="#cd5f45"/><path d="M1.2 -4.992V4.992M3.1 -4.992V4.992M5 -4.992V4.992M6.9 -4.992V4.992M8.8 -4.992V4.992M10.7 -4.992V4.992M12.6 -4.992V4.992M14.5 -4.992V4.992M16.4 -4.992V4.992M18.3 -4.992V4.992" stroke="#dc7d60" stroke-width="0.6" fill="none"/><rect x="20.5" y="-4.56" width="7" height="9.12" fill="#231f20"/><path d="M21.5 -3.6599999999999997V3.6599999999999997M23.5 -3.6599999999999997V3.6599999999999997M25.5 -3.6599999999999997V3.6599999999999997" stroke="#e4e39a" stroke-width="0.5" fill="none"/><rect x="27.5" y="-6.2" width="3" height="12.4" rx="1.5" ry="2.5" fill="none" stroke="#231f20" stroke-width="1.1"/><rect x="30.5" y="-6.2" width="3" height="12.4" rx="1.5" ry="2.5" fill="none" stroke="#231f20" stroke-width="1.1"/><rect x="33.5" y="-4.128" width="20.2" height="8.256" fill="none" stroke="#231f20" stroke-width="1.1"/><path d="M34.6 -4.128V4.128M36.8 -4.128V4.128M38.9 -4.128V4.128M41 -4.128V4.128M43.2 -4.128V4.128M45.4 -4.128V4.128M47.5 -4.128V4.128M49.6 -4.128V4.128M51.8 -4.128V4.128" stroke="#231f20" stroke-width="1.05" fill="none"/><ellipse cx="62.5" cy="0" rx="9.6" ry="9.6" fill="none" stroke="#231f20" stroke-width="1.6"/></g>
<path d="M670 1396.6L670 1405.8M666 1398.9L674 1403.5M674 1398.9L666 1403.5" stroke="#f47b20" fill="none" stroke-width="1.7"/>
<path d="M664.1 1415.3L664.1 1424.5M660.1 1417.6L668.1 1422.2M668.1 1417.6L660.1 1422.2" stroke="#6ccde6" fill="none" stroke-width="1.7"/>
<defs><linearGradient id="ga1" gradientUnits="userSpaceOnUse" x1="0" y1="0" x2="48.2" y2="0"><stop offset="0" stop-color="#231f20"/><stop offset="0.55" stop-color="#58595b"/><stop offset="1" stop-color="#bcbec0"/></linearGradient></defs>
<g transform="translate(714.6 1367.4) rotate(-35.8)"><path d="M0 -1.25L39.2 -0.9V0.9L0 1.25Z" fill="url(#ga1)"/><path d="M48.2 0L33.7 -7.4Q37.6 -2.4 37.2 0Q37.6 2.4 33.7 7.4Z" fill="url(#ga1)"/></g>
<ellipse cx="791.5" cy="1316.4" rx="32.9" ry="27" fill="#e4e873"/>
<g transform="translate(789 1313.3) rotate(-49.3)"><rect x="0" y="-4.56" width="2.5" height="9.12" fill="#231f20"/><path d="M1 -3.6599999999999997V3.6599999999999997" stroke="#e4e39a" stroke-width="0.5" fill="none"/><rect x="2.5" y="-6.2" width="3.5" height="12.4" rx="1.8" ry="2.9" fill="none" stroke="#231f20" stroke-width="1.1"/><rect x="6" y="-6.2" width="3.5" height="12.4" rx="1.8" ry="2.9" fill="none" stroke="#231f20" stroke-width="1.1"/><rect x="9.5" y="-4.128" width="25" height="8.256" fill="none" stroke="#231f20" stroke-width="1.1"/><path d="M10.6 -4.128V4.128M12.8 -4.128V4.128M14.9 -4.128V4.128M17 -4.128V4.128M19.2 -4.128V4.128M21.4 -4.128V4.128M23.5 -4.128V4.128M25.6 -4.128V4.128M27.8 -4.128V4.128M29.9 -4.128V4.128M32.1 -4.128V4.128" stroke="#231f20" stroke-width="1.05" fill="none"/><ellipse cx="43.7" cy="0" rx="10" ry="10" fill="none" stroke="#231f20" stroke-width="1.6"/></g>
<g transform="translate(791.1 1342.8) rotate(-97.6)"><rect x="0" y="-5.496000000000001" width="20.2" height="10.992000000000003" fill="#cd5f45"/><path d="M1.2 -5.096000000000001V5.096000000000001M3.1 -5.096000000000001V5.096000000000001M5 -5.096000000000001V5.096000000000001M6.9 -5.096000000000001V5.096000000000001M8.8 -5.096000000000001V5.096000000000001M10.7 -5.096000000000001V5.096000000000001M12.6 -5.096000000000001V5.096000000000001M14.5 -5.096000000000001V5.096000000000001M16.4 -5.096000000000001V5.096000000000001M18.3 -5.096000000000001V5.096000000000001" stroke="#dc7d60" stroke-width="0.6" fill="none"/></g>
<g transform="translate(760 1310.1) rotate(17) scale(1.0)"><ellipse cx="-5.9" cy="-2.2" rx="5.8" ry="2.6" transform="rotate(8 -5.9 -2.2)" fill="#fff" stroke="#231f20" stroke-width="1.1"/><ellipse cx="-6.6" cy="3.4" rx="5.8" ry="2.6" transform="rotate(-15 -6.6 3.4)" fill="#fff" stroke="#231f20" stroke-width="1.1"/><path d="M-1.5 -2.4L26 -3.2L-1 0.4Z" fill="#231f20" stroke="#231f20" stroke-width="0.7" stroke-linejoin="round"/><path d="M-2 0.2L25 4.2L-1.5 2.8Z" fill="#231f20" stroke="#231f20" stroke-width="0.7" stroke-linejoin="round"/></g>
<text x="639.2" y="1467" font-size="22.9" text-anchor="middle">Base to loop co-transcriptional processing</text>
<rect x="883.9" y="1258.6" width="616" height="216.2" rx="10.5" ry="10.5" fill="none" stroke="#231f20" stroke-width="1.8"/>
<ellipse cx="993.9" cy="1390.2" rx="32.6" ry="27.6" fill="#e4e873"/>
<rect x="927.1" y="1433.8" width="362.7" height="5.3" fill="#bab8ba"/>
<path d="M1035.7 1412H1066.2V1435.8H1035.7V1418.5L1025.7 1416.6H1017.4Q1015.9 1416.4 1015.9 1414.8Q1015.9 1413.2 1017.4 1413.1L1035.7 1412.6Z" fill="#1ba89b"/>
<path d="M948 1398.7C947.2 1396.9 943.7 1390.5 943.7 1388C943.7 1385.6 945.1 1384.4 948 1383.8C950.8 1383.1 956.1 1383.3 960.7 1384.2C965.3 1385.1 971 1388.1 975.6 1389.1C980.2 1390.1 984.3 1391 988.3 1390.2C992.3 1389.3 997.5 1384.8 999.3 1383.8" stroke="#231f20" fill="none" stroke-width="1.7" stroke-linecap="round"/>
<path d="M1003.6 1388C1002.9 1389.1 999.6 1392.1 999.3 1394.4C999.1 1396.7 999.3 1399.5 1002.1 1401.8C1004.9 1404.1 1011.5 1405.6 1015.9 1408.2C1020.3 1410.9 1024.2 1414.5 1028.7 1417.8C1033.1 1421.1 1040.2 1426.3 1042.5 1428" stroke="#231f20" fill="none" stroke-width="1.7" stroke-linecap="round"/>
<g transform="translate(1001.5 1387.6) rotate(-51.8)"><rect x="0" y="-4.56" width="35" height="9.12" fill="#231f20"/><path d="M1 -3.6599999999999997V3.6599999999999997M3 -3.6599999999999997V3.6599999999999997M5 -3.6599999999999997V3.6599999999999997M7 -3.6599999999999997V3.6599999999999997M9 -3.6599999999999997V3.6599999999999997M11 -3.6599999999999997V3.6599999999999997M13 -3.6599999999999997V3.6599999999999997M15 -3.6599999999999997V3.6599999999999997M17 -3.6599999999999997V3.6599999999999997M19 -3.6599999999999997V3.6599999999999997M21 -3.6599999999999997V3.6599999999999997M23 -3.6599999999999997V3.6599999999999997M25 -3.6599999999999997V3.6599999999999997M27 -3.6599999999999997V3.6599999999999997M29 -3.6599999999999997V3.6599999999999997M31 -3.6599999999999997V3.6599999999999997M33 -3.6599999999999997V3.6599999999999997" stroke="#e4e39a" stroke-width="0.5" fill="none"/><rect x="35" y="-6.2" width="2.2" height="12.4" rx="1.1" ry="1.9" fill="none" stroke="#231f20" stroke-width="1.1"/><rect x="37.2" y="-6.2" width="2.2" height="12.4" rx="1.1" ry="1.9" fill="none" stroke="#231f20" stroke-width="1.1"/><rect x="39.5" y="-5.392" width="19.1" height="10.784" fill="#cd5f45"/><path d="M40.7 -4.992V4.992M42.6 -4.992V4.992M44.5 -4.992V4.992M46.4 -4.992V4.992M48.3 -4.992V4.992M50.2 -4.992V4.992M52.1 -4.992V4.992M54 -4.992V4.992M55.9 -4.992V4.992" stroke="#dc7d60" stroke-width="0.6" fill="none"/><rect x="58.6" y="-4.56" width="4.5" height="9.12" fill="#231f20"/><path d="M59.6 -3.6599999999999997V3.6599999999999997M61.6 -3.6599999999999997V3.6599999999999997" stroke="#e4e39a" stroke-width="0.5" fill="none"/><ellipse cx="72.5" cy="0" rx="10.2" ry="10.2" fill="none" stroke="#231f20" stroke-width="1.6"/></g>
<g transform="translate(968.1 1371.7) rotate(18) scale(1.0)"><ellipse cx="-5.9" cy="-2.2" rx="5.8" ry="2.6" transform="rotate(8 -5.9 -2.2)" fill="#fff" stroke="#231f20" stroke-width="1.1"/><ellipse cx="-6.6" cy="3.4" rx="5.8" ry="2.6" transform="rotate(-15 -6.6 3.4)" fill="#fff" stroke="#231f20" stroke-width="1.1"/><path d="M-1.5 -2.4L26 -3.2L-1 0.4Z" fill="#231f20" stroke="#231f20" stroke-width="0.7" stroke-linejoin="round"/><path d="M-2 0.2L25 4.2L-1.5 2.8Z" fill="#231f20" stroke="#231f20" stroke-width="0.7" stroke-linejoin="round"/></g>
<text x="948.5" y="1405" font-size="16.3">7mG</text>
<text x="1090.8" y="1417.8" font-size="16.3">7mG</text>
<ellipse cx="1195.2" cy="1401.6" rx="32.5" ry="27.4" fill="#e4e873"/>
<path d="M1111.5 1419.9C1113.2 1420.8 1117.8 1426.1 1122.1 1425.2C1126.3 1424.3 1130.9 1415.6 1137 1414.6C1143 1413.5 1152.2 1419.2 1158.2 1418.8C1164.2 1418.5 1168.3 1413.2 1173.1 1412.5C1177.8 1411.7 1184.6 1414.2 1186.9 1414.6" stroke="#231f20" fill="none" stroke-width="1.7" stroke-linecap="round"/>
<path d="M1238.6 1413.2H1269.6V1437H1238.6V1419.7L1228.6 1417.8H1220.7Q1219.2 1417.6 1219.2 1416Q1219.2 1414.4 1220.7 1414.3L1238.6 1413.8Z" fill="#1ba89b"/>
<path d="M1209.4 1410C1210.2 1410.7 1211.6 1414.3 1214.3 1414.4C1216.9 1414.5 1221.8 1410.1 1225.2 1410.7C1228.7 1411.3 1231.1 1415.9 1235 1418C1238.8 1420.2 1246.1 1422.5 1248.4 1423.4" stroke="#231f20" fill="none" stroke-width="1.7" stroke-linecap="round"/>
<g transform="translate(1189.9 1391.3) rotate(-48.6)"><rect x="0" y="-4.56" width="27" height="9.12" fill="#231f20"/><path d="M1 -3.6599999999999997V3.6599999999999997M3 -3.6599999999999997V3.6599999999999997M5 -3.6599999999999997V3.6599999999999997M7 -3.6599999999999997V3.6599999999999997M9 -3.6599999999999997V3.6599999999999997M11 -3.6599999999999997V3.6599999999999997M13 -3.6599999999999997V3.6599999999999997M15 -3.6599999999999997V3.6599999999999997M17 -3.6599999999999997V3.6599999999999997M19 -3.6599999999999997V3.6599999999999997M21 -3.6599999999999997V3.6599999999999997M23 -3.6599999999999997V3.6599999999999997M25 -3.6599999999999997V3.6599999999999997" stroke="#e4e39a" stroke-width="0.5" fill="none"/><rect x="27" y="-6.2" width="2.2" height="12.4" rx="1.1" ry="1.9" fill="none" stroke="#231f20" stroke-width="1.1"/><rect x="29.2" y="-6.2" width="2.2" height="12.4" rx="1.1" ry="1.9" fill="none" stroke="#231f20" stroke-width="1.1"/><rect x="31.5" y="-5.392" width="20" height="10.784" fill="#cd5f45"/><path d="M32.7 -4.992V4.992M34.6 -4.992V4.992M36.5 -4.992V4.992M38.4 -4.992V4.992M40.3 -4.992V4.992M42.2 -4.992V4.992M44.1 -4.992V4.992M46 -4.992V4.992M47.9 -4.992V4.992M49.8 -4.992V4.992" stroke="#dc7d60" stroke-width="0.6" fill="none"/><rect x="51.5" y="-4.56" width="3.9" height="9.12" fill="#231f20"/><path d="M52.5 -3.6599999999999997V3.6599999999999997" stroke="#e4e39a" stroke-width="0.5" fill="none"/><ellipse cx="64.8" cy="0" rx="10.2" ry="10.2" fill="none" stroke="#231f20" stroke-width="1.6"/></g>
<path d="M1198.9 1394.7L1198.9 1403.9M1194.9 1397L1202.9 1401.6M1202.9 1397L1194.9 1401.6" stroke="#f47b20" fill="none" stroke-width="1.7"/>
<path d="M1189.4 1414.2L1189.4 1423.4M1185.4 1416.5L1193.4 1421.1M1193.4 1416.5L1185.4 1421.1" stroke="#6ccde6" fill="none" stroke-width="1.7"/>
<defs><linearGradient id="ga2" gradientUnits="userSpaceOnUse" x1="0" y1="0" x2="51.2" y2="0"><stop offset="0" stop-color="#231f20"/><stop offset="0.55" stop-color="#58595b"/><stop offset="1" stop-color="#bcbec0"/></linearGradient></defs>
<g transform="translate(1244 1366.9) rotate(-40)"><path d="M0 -1.25L42.2 -0.9V0.9L0 1.25Z" fill="url(#ga2)"/><path d="M51.2 0L36.7 -7.4Q40.6 -2.4 40.2 0Q40.6 2.4 36.7 7.4Z" fill="url(#ga2)"/></g>
<ellipse cx="1313.9" cy="1315.1" rx="32.6" ry="27.4" fill="#e4e873"/>
<g transform="translate(1315.8 1309.2) rotate(-48.3)"><rect x="0" y="-5.392" width="21" height="10.784" fill="#cd5f45"/><path d="M1.2 -4.992V4.992M3.1 -4.992V4.992M5 -4.992V4.992M6.9 -4.992V4.992M8.8 -4.992V4.992M10.7 -4.992V4.992M12.6 -4.992V4.992M14.5 -4.992V4.992M16.4 -4.992V4.992M18.3 -4.992V4.992" stroke="#dc7d60" stroke-width="0.6" fill="none"/><rect x="21" y="-4.56" width="4" height="9.12" fill="#231f20"/><path d="M22 -3.6599999999999997V3.6599999999999997" stroke="#e4e39a" stroke-width="0.5" fill="none"/><ellipse cx="34.4" cy="0" rx="10.2" ry="10.2" fill="none" stroke="#231f20" stroke-width="1.6"/></g>
<g transform="translate(1314.2 1323.1) rotate(98.5)"><rect x="0" y="-4.7" width="24.4" height="9.4" fill="none" stroke="#808285" stroke-width="1.3"/><path d="M1 -4.7V4.7M3 -4.7V4.7M5 -4.7V4.7M7 -4.7V4.7M9 -4.7V4.7M11 -4.7V4.7M13 -4.7V4.7M15 -4.7V4.7M17 -4.7V4.7M19 -4.7V4.7M21 -4.7V4.7" stroke="#808285" stroke-width="1.1" fill="none"/></g>
<g transform="translate(1285.6 1306.5) rotate(17) scale(1.0)"><ellipse cx="-5.9" cy="-2.2" rx="5.8" ry="2.6" transform="rotate(8 -5.9 -2.2)" fill="#fff" stroke="#231f20" stroke-width="1.1"/><ellipse cx="-6.6" cy="3.4" rx="5.8" ry="2.6" transform="rotate(-15 -6.6 3.4)" fill="#fff" stroke="#231f20" stroke-width="1.1"/><path d="M-1.5 -2.4L26 -3.2L-1 0.4Z" fill="#231f20" stroke="#231f20" stroke-width="0.7" stroke-linejoin="round"/><path d="M-2 0.2L25 4.2L-1.5 2.8Z" fill="#231f20" stroke="#231f20" stroke-width="0.7" stroke-linejoin="round"/></g>
<defs><linearGradient id="ga3" gradientUnits="userSpaceOnUse" x1="0" y1="0" x2="51.6" y2="0"><stop offset="0" stop-color="#231f20"/><stop offset="0.55" stop-color="#58595b"/><stop offset="1" stop-color="#bcbec0"/></linearGradient></defs>
<g transform="translate(1356.3 1318.7) rotate(0)"><path d="M0 -1.25L42.6 -0.9V0.9L0 1.25Z" fill="url(#ga3)"/><path d="M51.6 0L37.1 -7.4Q41 -2.4 40.6 0Q41 2.4 37.1 7.4Z" fill="url(#ga3)"/></g>
<ellipse cx="1458.8" cy="1313.3" rx="32.6" ry="27.3" fill="#e4e873"/>
<g transform="translate(1462.2 1311) rotate(-19.8)"><rect x="0" y="-3.698" width="5.5" height="7.396" fill="none" stroke="#231f20" stroke-width="1.1"/><path d="M1.1 -3.698V3.698M3.2 -3.698V3.698" stroke="#231f20" stroke-width="1.05" fill="none"/><ellipse cx="14.9" cy="0" rx="10.2" ry="10.2" fill="none" stroke="#231f20" stroke-width="1.6"/></g>
<g transform="translate(1442.9 1327.6) rotate(-48)"><rect x="0" y="-5.912" width="20.7" height="11.824" fill="#cd5f45"/><path d="M1.2 -5.512V5.512M3.1 -5.512V5.512M5 -5.512V5.512M6.9 -5.512V5.512M8.8 -5.512V5.512M10.7 -5.512V5.512M12.6 -5.512V5.512M14.5 -5.512V5.512M16.4 -5.512V5.512M18.3 -5.512V5.512" stroke="#dc7d60" stroke-width="0.6" fill="none"/></g>
<g transform="translate(1435.4 1298.2) rotate(16) scale(1.0)"><ellipse cx="-5.9" cy="-2.2" rx="5.8" ry="2.6" transform="rotate(8 -5.9 -2.2)" fill="#fff" stroke="#231f20" stroke-width="1.1"/><ellipse cx="-6.6" cy="3.4" rx="5.8" ry="2.6" transform="rotate(-15 -6.6 3.4)" fill="#fff" stroke="#231f20" stroke-width="1.1"/><path d="M-1.5 -2.4L26 -3.2L-1 0.4Z" fill="#231f20" stroke="#231f20" stroke-width="0.7" stroke-linejoin="round"/><path d="M-2 0.2L25 4.2L-1.5 2.8Z" fill="#231f20" stroke="#231f20" stroke-width="0.7" stroke-linejoin="round"/></g>
<text x="1205.2" y="1467" font-size="22.9" text-anchor="middle">Sequential base to loop co-transcriptional processing</text>
<rect x="387.3" y="1483.1" width="489.4" height="216.3" rx="10.5" ry="10.5" fill="none" stroke="#231f20" stroke-width="1.8"/>
<ellipse cx="471.4" cy="1595" rx="32.4" ry="27.2" fill="#e4e873"/>
<rect x="393.8" y="1659.9" width="469" height="5.3" fill="#bab8ba"/>
<path d="M502.1 1636H536.5V1661.9H502.1V1642.5L492.1 1640.6H481.3Q479.8 1640.4 479.8 1638.8Q479.8 1637.2 481.3 1637.1L502.1 1636.6Z" fill="#1ba89b"/>
<path d="M403.4 1620.5C402.7 1618.9 399.2 1613.6 399.5 1610.9C399.9 1608.3 402 1605.6 405.5 1604.5C409 1603.5 415 1603.8 420.3 1604.5C425.7 1605.2 432.7 1607.9 437.3 1608.8C441.9 1609.7 444.5 1610.6 448 1609.8C451.4 1609.1 456.3 1605.4 457.9 1604.5" stroke="#231f20" fill="none" stroke-width="1.7" stroke-linecap="round"/>
<path d="M465.4 1609.8C464.8 1610.9 461.7 1613.9 461.8 1616.2C461.9 1618.5 463 1621.4 466 1623.7C469 1626 475.4 1627.2 479.8 1630C484.2 1632.9 487.7 1636.9 492.6 1640.6C497.4 1644.4 506.4 1650.4 509.1 1652.3" stroke="#231f20" fill="none" stroke-width="1.7" stroke-linecap="round"/>
<g transform="translate(461.8 1605.6) rotate(-49.2)"><rect x="0" y="-4.56" width="3" height="9.12" fill="#231f20"/><path d="M1 -3.6599999999999997V3.6599999999999997" stroke="#e4e39a" stroke-width="0.5" fill="none"/><rect x="3" y="-5.392" width="22.5" height="10.784" fill="#cd5f45"/><path d="M4.2 -4.992V4.992M6.1 -4.992V4.992M8 -4.992V4.992M9.9 -4.992V4.992M11.8 -4.992V4.992M13.7 -4.992V4.992M15.6 -4.992V4.992M17.5 -4.992V4.992M19.4 -4.992V4.992M21.3 -4.992V4.992M23.2 -4.992V4.992" stroke="#dc7d60" stroke-width="0.6" fill="none"/><rect x="25.5" y="-4.56" width="10" height="9.12" fill="#231f20"/><path d="M26.5 -3.6599999999999997V3.6599999999999997M28.5 -3.6599999999999997V3.6599999999999997M30.5 -3.6599999999999997V3.6599999999999997M32.5 -3.6599999999999997V3.6599999999999997" stroke="#e4e39a" stroke-width="0.5" fill="none"/><rect x="35.5" y="-6.2" width="3.2" height="12.4" rx="1.6" ry="2.7" fill="none" stroke="#231f20" stroke-width="1.1"/><rect x="38.8" y="-6.2" width="3.2" height="12.4" rx="1.6" ry="2.7" fill="none" stroke="#231f20" stroke-width="1.1"/><rect x="42" y="-4.128" width="9.6" height="8.256" fill="none" stroke="#231f20" stroke-width="1.1"/><path d="M43.1 -4.128V4.128M45.2 -4.128V4.128M47.4 -4.128V4.128M49.5 -4.128V4.128" stroke="#231f20" stroke-width="1.05" fill="none"/><ellipse cx="61.8" cy="0" rx="11" ry="11" fill="none" stroke="#231f20" stroke-width="1.6"/></g>
<g transform="translate(448.4 1571) rotate(19) scale(1.0)"><ellipse cx="-5.9" cy="-2.2" rx="5.8" ry="2.6" transform="rotate(8 -5.9 -2.2)" fill="#fff" stroke="#231f20" stroke-width="1.1"/><ellipse cx="-6.6" cy="3.4" rx="5.8" ry="2.6" transform="rotate(-15 -6.6 3.4)" fill="#fff" stroke="#231f20" stroke-width="1.1"/><path d="M-1.5 -2.4L26 -3.2L-1 0.4Z" fill="#231f20" stroke="#231f20" stroke-width="0.7" stroke-linejoin="round"/><path d="M-2 0.2L25 4.2L-1.5 2.8Z" fill="#231f20" stroke="#231f20" stroke-width="0.7" stroke-linejoin="round"/></g>
<text x="405" y="1626.8" font-size="16.3">7mG</text>
<g transform="translate(595.9 1555.5) rotate(-108.4)"><rect x="0" y="-3.7840000000000003" width="12.7" height="7.5680000000000005" fill="none" stroke="#231f20" stroke-width="1.1"/><path d="M1.1 -3.7840000000000003V3.7840000000000003M3.2 -3.7840000000000003V3.7840000000000003M5.4 -3.7840000000000003V3.7840000000000003M7.5 -3.7840000000000003V3.7840000000000003M9.7 -3.7840000000000003V3.7840000000000003" stroke="#231f20" stroke-width="1.05" fill="none"/><ellipse cx="23.1" cy="0" rx="11.2" ry="10.4" fill="none" stroke="#231f20" stroke-width="1.6"/></g>
<ellipse cx="611.2" cy="1612.8" rx="32.6" ry="27.4" fill="#e4e873"/>
<path d="M643.3 1637.5H677.3V1663H643.3V1644L633.3 1642.1H623.2Q621.7 1641.9 621.7 1640.3Q621.7 1638.7 623.2 1638.6L643.3 1638.1Z" fill="#1ba89b"/>
<path d="M555.2 1628.3C554.3 1626.8 549.7 1621.9 549.9 1619.4C550.1 1616.9 552.7 1614.3 556.3 1613.5C559.8 1612.6 565.8 1613.1 571.1 1614.1C576.4 1615.1 583.2 1618.7 588.1 1619.4C593.1 1620.1 597.1 1619.6 600.9 1618.3C604.6 1617.1 609.2 1613 610.8 1612" stroke="#231f20" fill="none" stroke-width="1.7" stroke-linecap="round"/>
<path d="M614 1616.2C613.6 1617.5 611 1621.2 611.5 1623.7C611.9 1626.1 613.6 1628.4 616.8 1631.1C620 1633.7 626.2 1636.2 630.6 1639.6C635 1642.9 638.4 1647.5 643.3 1651.3C648.2 1655 657.1 1660.5 659.9 1662.3" stroke="#231f20" fill="none" stroke-width="1.7" stroke-linecap="round"/>
<g transform="translate(611.5 1613) rotate(-47)"><rect x="0" y="-4.56" width="2.5" height="9.12" fill="#231f20"/><path d="M1 -3.6599999999999997V3.6599999999999997" stroke="#e4e39a" stroke-width="0.5" fill="none"/><rect x="2.5" y="-5.392" width="21.5" height="10.784" fill="#cd5f45"/><path d="M3.7 -4.992V4.992M5.6 -4.992V4.992M7.5 -4.992V4.992M9.4 -4.992V4.992M11.3 -4.992V4.992M13.2 -4.992V4.992M15.1 -4.992V4.992M17 -4.992V4.992M18.9 -4.992V4.992M20.8 -4.992V4.992" stroke="#dc7d60" stroke-width="0.6" fill="none"/></g>
<path d="M625.9 1580.4L625.9 1589.6M621.9 1582.7L629.9 1587.3M629.9 1582.7L621.9 1587.3" stroke="#5b4aa8" fill="none" stroke-width="1.7"/>
<g transform="translate(580 1602.4) rotate(19) scale(1.0)"><ellipse cx="-5.9" cy="-2.2" rx="5.8" ry="2.6" transform="rotate(8 -5.9 -2.2)" fill="#fff" stroke="#231f20" stroke-width="1.1"/><ellipse cx="-6.6" cy="3.4" rx="5.8" ry="2.6" transform="rotate(-15 -6.6 3.4)" fill="#fff" stroke="#231f20" stroke-width="1.1"/><path d="M-1.5 -2.4L26 -3.2L-1 0.4Z" fill="#231f20" stroke="#231f20" stroke-width="0.7" stroke-linejoin="round"/><path d="M-2 0.2L25 4.2L-1.5 2.8Z" fill="#231f20" stroke="#231f20" stroke-width="0.7" stroke-linejoin="round"/></g>
<text x="555.8" y="1635.8" font-size="16.3">7mG</text>
<ellipse cx="771.7" cy="1616.5" rx="32.5" ry="27.4" fill="#e4e873"/>
<path d="M817.5 1637.2H851.8V1663.6H817.5V1643.7L807.5 1641.8H797.4Q795.9 1641.6 795.9 1640Q795.9 1638.4 797.4 1638.3L817.5 1637.8Z" fill="#1ba89b"/>
<path d="M704.7 1631.8C705.5 1633.6 706.9 1639.9 709.7 1642.6C712.4 1645.2 717.4 1648.1 721.3 1647.5C725.2 1647 728.8 1641.3 732.9 1639.2C737 1637.2 741.9 1635.2 746.2 1635.1C750.5 1634.9 756.5 1637.9 758.6 1638.4" stroke="#231f20" fill="none" stroke-width="1.7" stroke-linecap="round"/>
<path d="M784.3 1633.4C785.2 1634.4 786.3 1639 789.3 1639.2C792.3 1639.5 798.2 1634 802.6 1635.1C807 1636.2 811.6 1643.6 815.8 1645.9C820.1 1648.1 826.2 1648.2 828.3 1648.7" stroke="#231f20" fill="none" stroke-width="1.7" stroke-linecap="round"/>
<g transform="translate(762.7 1617.2) rotate(-42.7)"><rect x="0" y="-5.444" width="23" height="10.888" fill="#cd5f45"/><path d="M1.2 -5.044V5.044M3.1 -5.044V5.044M5 -5.044V5.044M6.9 -5.044V5.044M8.8 -5.044V5.044M10.7 -5.044V5.044M12.6 -5.044V5.044M14.5 -5.044V5.044M16.4 -5.044V5.044M18.3 -5.044V5.044M20.2 -5.044V5.044" stroke="#dc7d60" stroke-width="0.6" fill="none"/><circle cx="0" cy="-4.8" r="0.9" fill="#231f20"/><circle cx="0" cy="4.8" r="0.9" fill="#231f20"/><circle cx="23" cy="-4.8" r="0.9" fill="#231f20"/><circle cx="23" cy="4.8" r="0.9" fill="#231f20"/></g>
<path d="M761.9 1620.5L761.9 1629.7M757.9 1622.8L765.9 1627.4M765.9 1622.8L757.9 1627.4" stroke="#f08a1d" fill="none" stroke-width="1.7"/>
<path d="M762.8 1638.8L762.8 1648M758.8 1641.1L766.8 1645.7M766.8 1641.1L758.8 1645.7" stroke="#6ccde6" fill="none" stroke-width="1.7"/>
<text x="690.1" y="1628.9" font-size="16.3">7mG</text>
<defs><linearGradient id="ga4" gradientUnits="userSpaceOnUse" x1="0" y1="0" x2="35.9" y2="0"><stop offset="0" stop-color="#231f20"/><stop offset="0.55" stop-color="#58595b"/><stop offset="1" stop-color="#bcbec0"/></linearGradient></defs>
<g transform="translate(787.6 1591.1) rotate(-40.3)"><path d="M0 -1.25L26.9 -0.9V0.9L0 1.25Z" fill="url(#ga4)"/><path d="M35.9 0L21.4 -7.4Q25.3 -2.4 24.9 0Q25.3 2.4 21.4 7.4Z" fill="url(#ga4)"/></g>
<ellipse cx="830.4" cy="1541.4" rx="32.7" ry="27.4" fill="#e4e873"/>
<g transform="translate(821.6 1542.2) rotate(-42.7)"><rect x="0" y="-5.444" width="23" height="10.888" fill="#cd5f45"/><path d="M1.2 -5.044V5.044M3.1 -5.044V5.044M5 -5.044V5.044M6.9 -5.044V5.044M8.8 -5.044V5.044M10.7 -5.044V5.044M12.6 -5.044V5.044M14.5 -5.044V5.044M16.4 -5.044V5.044M18.3 -5.044V5.044M20.2 -5.044V5.044" stroke="#dc7d60" stroke-width="0.6" fill="none"/><circle cx="0" cy="-4.8" r="0.9" fill="#231f20"/><circle cx="0" cy="4.8" r="0.9" fill="#231f20"/><circle cx="23" cy="-4.8" r="0.9" fill="#231f20"/><circle cx="23" cy="4.8" r="0.9" fill="#231f20"/></g>
<text x="628.8" y="1691" font-size="22.9" text-anchor="middle">Loop to base co-transcriptional processing</text>
<rect x="883.9" y="1483.1" width="616.2" height="215.8" rx="10.5" ry="10.5" fill="none" stroke="#231f20" stroke-width="1.8"/>
<ellipse cx="989.4" cy="1555.5" rx="32.5" ry="27.4" fill="#e4e873"/>
<path d="M992.1 1636.4H1026.5V1662.3H992.1V1642.9L982.1 1641H971.8Q970.3 1640.8 970.3 1639.2Q970.3 1637.6 971.8 1637.5L992.1 1637Z" fill="#1ba89b"/>
<path d="M893.8 1621.5C893.1 1619.8 889.2 1613.8 889.6 1610.9C889.9 1608 892.2 1605.2 895.9 1604.1C899.6 1603.1 906.4 1603.7 911.9 1604.5C917.3 1605.4 924.1 1608.4 928.8 1609.2C933.6 1610 937.1 1610.2 940.5 1609.2C944 1608.3 948 1604.4 949.4 1603.5" stroke="#231f20" fill="none" stroke-width="1.7" stroke-linecap="round"/>
<path d="M954.8 1609.8C954.1 1610.9 951.2 1613.9 951.1 1616.2C951.1 1618.5 951.3 1621.4 954.3 1623.7C957.3 1626 964.6 1627.4 969.2 1630C973.8 1632.7 977 1635.8 981.9 1639.6C986.9 1643.4 996.1 1650.7 998.9 1653" stroke="#231f20" fill="none" stroke-width="1.7" stroke-linecap="round"/>
<g transform="translate(952.2 1606.7) rotate(-49.95)"><rect x="0" y="-5.392" width="24" height="10.784" fill="#cd5f45"/><path d="M1.2 -4.992V4.992M3.1 -4.992V4.992M5 -4.992V4.992M6.9 -4.992V4.992M8.8 -4.992V4.992M10.7 -4.992V4.992M12.6 -4.992V4.992M14.5 -4.992V4.992M16.4 -4.992V4.992M18.3 -4.992V4.992M20.2 -4.992V4.992M22.1 -4.992V4.992" stroke="#dc7d60" stroke-width="0.6" fill="none"/><rect x="24" y="-4.56" width="16.6" height="9.12" fill="#231f20"/><path d="M25 -3.6599999999999997V3.6599999999999997M27 -3.6599999999999997V3.6599999999999997M29 -3.6599999999999997V3.6599999999999997M31 -3.6599999999999997V3.6599999999999997M33 -3.6599999999999997V3.6599999999999997M35 -3.6599999999999997V3.6599999999999997M37 -3.6599999999999997V3.6599999999999997M39 -3.6599999999999997V3.6599999999999997" stroke="#e4e39a" stroke-width="0.5" fill="none"/><rect x="40.6" y="-6.2" width="2.6" height="12.4" rx="1.3" ry="2.2" fill="none" stroke="#231f20" stroke-width="1.1"/><rect x="43.2" y="-6.2" width="2.6" height="12.4" rx="1.3" ry="2.2" fill="none" stroke="#231f20" stroke-width="1.1"/><rect x="45.9" y="-4.128" width="25" height="8.256" fill="none" stroke="#231f20" stroke-width="1.1"/><path d="M47 -4.128V4.128M49.1 -4.128V4.128M51.3 -4.128V4.128M53.4 -4.128V4.128M55.6 -4.128V4.128M57.8 -4.128V4.128M59.9 -4.128V4.128M62 -4.128V4.128M64.2 -4.128V4.128M66.3 -4.128V4.128M68.5 -4.128V4.128" stroke="#231f20" stroke-width="1.05" fill="none"/><ellipse cx="81.1" cy="0" rx="11" ry="11" fill="none" stroke="#231f20" stroke-width="1.6"/></g>
<g transform="translate(963.2 1538.3) rotate(18) scale(1.0)"><ellipse cx="-5.9" cy="-2.2" rx="5.8" ry="2.6" transform="rotate(8 -5.9 -2.2)" fill="#fff" stroke="#231f20" stroke-width="1.1"/><ellipse cx="-6.6" cy="3.4" rx="5.8" ry="2.6" transform="rotate(-15 -6.6 3.4)" fill="#fff" stroke="#231f20" stroke-width="1.1"/><path d="M-1.5 -2.4L26 -3.2L-1 0.4Z" fill="#231f20" stroke="#231f20" stroke-width="0.7" stroke-linejoin="round"/><path d="M-2 0.2L25 4.2L-1.5 2.8Z" fill="#231f20" stroke="#231f20" stroke-width="0.7" stroke-linejoin="round"/></g>
<text x="895.4" y="1626.8" font-size="16.3">7mG</text>
<g transform="translate(1101.8 1541.6) rotate(-109.1)"><rect x="0" y="-3.7840000000000003" width="13.8" height="7.5680000000000005" fill="none" stroke="#231f20" stroke-width="1.1"/><path d="M1.1 -3.7840000000000003V3.7840000000000003M3.2 -3.7840000000000003V3.7840000000000003M5.4 -3.7840000000000003V3.7840000000000003M7.5 -3.7840000000000003V3.7840000000000003M9.7 -3.7840000000000003V3.7840000000000003M11.8 -3.7840000000000003V3.7840000000000003" stroke="#231f20" stroke-width="1.05" fill="none"/><ellipse cx="24.7" cy="0" rx="11.7" ry="10.6" fill="none" stroke="#231f20" stroke-width="1.6"/></g>
<ellipse cx="1106" cy="1586.8" rx="32.7" ry="27.3" fill="#e4e873"/>
<path d="M1133.8 1636.4H1167.7V1662.3H1133.8V1642.9L1123.8 1641H1113Q1111.5 1640.8 1111.5 1639.2Q1111.5 1637.6 1113 1637.5L1133.8 1637Z" fill="#1ba89b"/>
<path d="M1036.1 1621.5C1035.3 1619.8 1031 1613.8 1031.2 1610.9C1031.4 1608 1033.3 1605.1 1037.1 1604.1C1041 1603.1 1048.5 1604 1054.1 1605C1059.8 1605.9 1066.5 1609.1 1071.1 1609.8C1075.7 1610.6 1078.5 1610.3 1081.7 1609.2C1085 1608.1 1089.2 1604.4 1090.7 1603.5" stroke="#231f20" fill="none" stroke-width="1.7" stroke-linecap="round"/>
<path d="M1096 1609.8C1095.4 1610.9 1092.4 1613.9 1092.4 1616.2C1092.3 1618.5 1092.5 1621.4 1095.5 1623.7C1098.6 1626 1105.6 1627.4 1110.4 1630C1115.2 1632.7 1119.2 1635.8 1124.2 1639.6C1129.3 1643.4 1138 1650.7 1140.8 1653" stroke="#231f20" fill="none" stroke-width="1.7" stroke-linecap="round"/>
<g transform="translate(1092.4 1606.7) rotate(-49.4)"><rect x="0" y="-5.392" width="21.9" height="10.784" fill="#cd5f45"/><path d="M1.2 -4.992V4.992M3.1 -4.992V4.992M5 -4.992V4.992M6.9 -4.992V4.992M8.8 -4.992V4.992M10.7 -4.992V4.992M12.6 -4.992V4.992M14.5 -4.992V4.992M16.4 -4.992V4.992M18.3 -4.992V4.992M20.2 -4.992V4.992" stroke="#dc7d60" stroke-width="0.6" fill="none"/><rect x="21.9" y="-4.56" width="15" height="9.12" fill="#231f20"/><path d="M22.9 -3.6599999999999997V3.6599999999999997M24.9 -3.6599999999999997V3.6599999999999997M26.9 -3.6599999999999997V3.6599999999999997M28.9 -3.6599999999999997V3.6599999999999997M30.9 -3.6599999999999997V3.6599999999999997M32.9 -3.6599999999999997V3.6599999999999997M34.9 -3.6599999999999997V3.6599999999999997" stroke="#e4e39a" stroke-width="0.5" fill="none"/><rect x="36.9" y="-6.2" width="2.6" height="12.4" rx="1.3" ry="2.2" fill="none" stroke="#231f20" stroke-width="1.1"/><rect x="39.5" y="-6.2" width="2.6" height="12.4" rx="1.3" ry="2.2" fill="none" stroke="#231f20" stroke-width="1.1"/><rect x="42.2" y="-4.56" width="16.5" height="9.12" fill="#231f20"/><path d="M43.2 -3.6599999999999997V3.6599999999999997M45.2 -3.6599999999999997V3.6599999999999997M47.2 -3.6599999999999997V3.6599999999999997M49.2 -3.6599999999999997V3.6599999999999997M51.2 -3.6599999999999997V3.6599999999999997M53.2 -3.6599999999999997V3.6599999999999997M55.2 -3.6599999999999997V3.6599999999999997M57.2 -3.6599999999999997V3.6599999999999997" stroke="#e4e39a" stroke-width="0.5" fill="none"/></g>
<path d="M1126.3 1548.5L1126.3 1557.7M1122.3 1550.8L1130.3 1555.4M1130.3 1550.8L1122.3 1555.4" stroke="#5bbf3a" fill="none" stroke-width="1.7"/>
<g transform="translate(1074.7 1572.7) rotate(18) scale(1.0)"><ellipse cx="-5.9" cy="-2.2" rx="5.8" ry="2.6" transform="rotate(8 -5.9 -2.2)" fill="#fff" stroke="#231f20" stroke-width="1.1"/><ellipse cx="-6.6" cy="3.4" rx="5.8" ry="2.6" transform="rotate(-15 -6.6 3.4)" fill="#fff" stroke="#231f20" stroke-width="1.1"/><path d="M-1.5 -2.4L26 -3.2L-1 0.4Z" fill="#231f20" stroke="#231f20" stroke-width="0.7" stroke-linejoin="round"/><path d="M-2 0.2L25 4.2L-1.5 2.8Z" fill="#231f20" stroke="#231f20" stroke-width="0.7" stroke-linejoin="round"/></g>
<text x="1036.6" y="1626.8" font-size="16.3">7mG</text>
<ellipse cx="1227.1" cy="1612.8" rx="32.6" ry="27.6" fill="#e4e873"/>
<path d="M1259 1637.3H1293.8V1663.3H1259V1643.8L1249 1641.9H1239.2Q1237.7 1641.7 1237.7 1640.1Q1237.7 1638.5 1239.2 1638.4L1259 1637.9Z" fill="#1ba89b"/>
<path d="M1171.3 1629C1170.5 1627.4 1165.9 1622.3 1166.1 1619.5C1166.3 1616.8 1168.5 1613.5 1172.5 1612.4C1176.5 1611.3 1184.2 1611.9 1190.3 1612.9C1196.4 1613.9 1204.1 1617.6 1209.2 1618.3C1214.4 1619 1217.6 1618.1 1221.1 1617.1C1224.5 1616.2 1228.4 1613.2 1229.8 1612.4" stroke="#231f20" fill="none" stroke-width="1.7" stroke-linecap="round"/>
<path d="M1232.2 1617.1C1231.5 1618.7 1227.7 1623.5 1228.2 1626.6C1228.7 1629.8 1231.7 1633.7 1235.3 1636.1C1238.8 1638.5 1245.2 1638.1 1249.5 1640.8C1253.8 1643.6 1256.8 1649.1 1261.3 1652.7C1265.9 1656.2 1274.2 1660.6 1276.7 1662.2" stroke="#231f20" fill="none" stroke-width="1.7" stroke-linecap="round"/>
<g transform="translate(1229.4 1613.6) rotate(-49.1)"><rect x="0" y="-4.655" width="2.5" height="9.31" fill="#231f20"/><path d="M1 -3.7550000000000003V3.7550000000000003" stroke="#e4e39a" stroke-width="0.5" fill="none"/><rect x="2.5" y="-5.496000000000001" width="21.5" height="10.992000000000003" fill="#cd5f45"/><path d="M3.7 -5.096000000000001V5.096000000000001M5.6 -5.096000000000001V5.096000000000001M7.5 -5.096000000000001V5.096000000000001M9.4 -5.096000000000001V5.096000000000001M11.3 -5.096000000000001V5.096000000000001M13.2 -5.096000000000001V5.096000000000001M15.1 -5.096000000000001V5.096000000000001M17 -5.096000000000001V5.096000000000001M18.9 -5.096000000000001V5.096000000000001M20.8 -5.096000000000001V5.096000000000001" stroke="#dc7d60" stroke-width="0.6" fill="none"/></g>
<path d="M1240 1580.6L1240 1589.8M1236 1582.9L1244 1587.5M1244 1582.9L1236 1587.5" stroke="#7b52ab" fill="none" stroke-width="1.7"/>
<g transform="translate(1249.1 1568.9) rotate(-5)"><rect x="0" y="-4.385999999999999" width="23.7" height="8.771999999999998" fill="none" stroke="#231f20" stroke-width="1.1"/><path d="M1.1 -4.385999999999999V4.385999999999999M3.2 -4.385999999999999V4.385999999999999M5.4 -4.385999999999999V4.385999999999999M7.5 -4.385999999999999V4.385999999999999M9.7 -4.385999999999999V4.385999999999999M11.8 -4.385999999999999V4.385999999999999M14 -4.385999999999999V4.385999999999999M16.1 -4.385999999999999V4.385999999999999M18.3 -4.385999999999999V4.385999999999999M20.4 -4.385999999999999V4.385999999999999" stroke="#231f20" stroke-width="1.05" fill="none"/></g>
<g transform="translate(1196.9 1602.5) rotate(19) scale(1.0)"><ellipse cx="-5.9" cy="-2.2" rx="5.8" ry="2.6" transform="rotate(8 -5.9 -2.2)" fill="#fff" stroke="#231f20" stroke-width="1.1"/><ellipse cx="-6.6" cy="3.4" rx="5.8" ry="2.6" transform="rotate(-15 -6.6 3.4)" fill="#fff" stroke="#231f20" stroke-width="1.1"/><path d="M-1.5 -2.4L26 -3.2L-1 0.4Z" fill="#231f20" stroke="#231f20" stroke-width="0.7" stroke-linejoin="round"/><path d="M-2 0.2L25 4.2L-1.5 2.8Z" fill="#231f20" stroke="#231f20" stroke-width="0.7" stroke-linejoin="round"/></g>
<text x="1172" y="1636.1" font-size="16.3">7mG</text>
<text x="1305.9" y="1629" font-size="16.3">7mG</text>
<ellipse cx="1387.7" cy="1616.4" rx="32.8" ry="27.3" fill="#e4e873"/>
<path d="M1321 1632.5C1322 1634.3 1323.4 1640.7 1326.5 1643.2C1329.6 1645.7 1335 1648.3 1339.5 1647.5C1344.1 1646.7 1349.4 1640.4 1353.7 1638.5C1358.1 1636.5 1362 1635.6 1365.6 1635.6C1369.1 1635.6 1373.5 1638 1375.1 1638.5" stroke="#231f20" fill="none" stroke-width="1.7" stroke-linecap="round"/>
<path d="M1433.6 1637.3H1468.2V1663.3H1433.6V1643.8L1423.6 1641.9H1414.5Q1413 1641.7 1413 1640.1Q1413 1638.5 1414.5 1638.4L1433.6 1637.9Z" fill="#1ba89b"/>
<path d="M1400.7 1633.3C1401.5 1634.1 1402.6 1638.2 1405.9 1638.5C1409.1 1638.7 1415.7 1633.9 1420.1 1634.9C1424.4 1635.9 1427.9 1642.1 1431.9 1644.4C1436 1646.7 1442.4 1647.9 1444.5 1648.7" stroke="#231f20" fill="none" stroke-width="1.7" stroke-linecap="round"/>
<g transform="translate(1379.1 1617.1) rotate(-42.7)"><rect x="0" y="-5.444" width="23" height="10.888" fill="#cd5f45"/><path d="M1.2 -5.044V5.044M3.1 -5.044V5.044M5 -5.044V5.044M6.9 -5.044V5.044M8.8 -5.044V5.044M10.7 -5.044V5.044M12.6 -5.044V5.044M14.5 -5.044V5.044M16.4 -5.044V5.044M18.3 -5.044V5.044M20.2 -5.044V5.044" stroke="#dc7d60" stroke-width="0.6" fill="none"/><circle cx="0" cy="-4.8" r="0.9" fill="#231f20"/><circle cx="0" cy="4.8" r="0.9" fill="#231f20"/><circle cx="23" cy="-4.8" r="0.9" fill="#231f20"/><circle cx="23" cy="4.8" r="0.9" fill="#231f20"/></g>
<path d="M1378.6 1622L1378.6 1631.2M1374.6 1624.3L1382.6 1628.9M1382.6 1624.3L1374.6 1628.9" stroke="#f08a1d" fill="none" stroke-width="1.7"/>
<path d="M1379.8 1640.5L1379.8 1649.7M1375.8 1642.8L1383.8 1647.4M1383.8 1642.8L1375.8 1647.4" stroke="#6ccde6" fill="none" stroke-width="1.7"/>
<defs><linearGradient id="ga5" gradientUnits="userSpaceOnUse" x1="0" y1="0" x2="36.6" y2="0"><stop offset="0" stop-color="#231f20"/><stop offset="0.55" stop-color="#58595b"/><stop offset="1" stop-color="#bcbec0"/></linearGradient></defs>
<g transform="translate(1417 1596.3) rotate(-41.3)"><path d="M0 -1.25L27.6 -0.9V0.9L0 1.25Z" fill="url(#ga5)"/><path d="M36.6 0L22.1 -7.4Q26 -2.4 25.6 0Q26 2.4 22.1 7.4Z" fill="url(#ga5)"/></g>
<ellipse cx="1459.8" cy="1543.5" rx="32.6" ry="27.4" fill="#e4e873"/>
<g transform="translate(1450.7 1544.9) rotate(-42.7)"><rect x="0" y="-5.444" width="23" height="10.888" fill="#cd5f45"/><path d="M1.2 -5.044V5.044M3.1 -5.044V5.044M5 -5.044V5.044M6.9 -5.044V5.044M8.8 -5.044V5.044M10.7 -5.044V5.044M12.6 -5.044V5.044M14.5 -5.044V5.044M16.4 -5.044V5.044M18.3 -5.044V5.044M20.2 -5.044V5.044" stroke="#dc7d60" stroke-width="0.6" fill="none"/><circle cx="0" cy="-4.8" r="0.9" fill="#231f20"/><circle cx="0" cy="4.8" r="0.9" fill="#231f20"/><circle cx="23" cy="-4.8" r="0.9" fill="#231f20"/><circle cx="23" cy="4.8" r="0.9" fill="#231f20"/></g>
<rect x="911.9" y="1659.9" width="566.9" height="5.3" fill="#bab8ba" opacity="0.92"/>
<text x="1191.8" y="1691" font-size="22.9" text-anchor="middle">Sequential loop to base co-transcriptional processing</text>
</g>
</svg>
</body></html>
